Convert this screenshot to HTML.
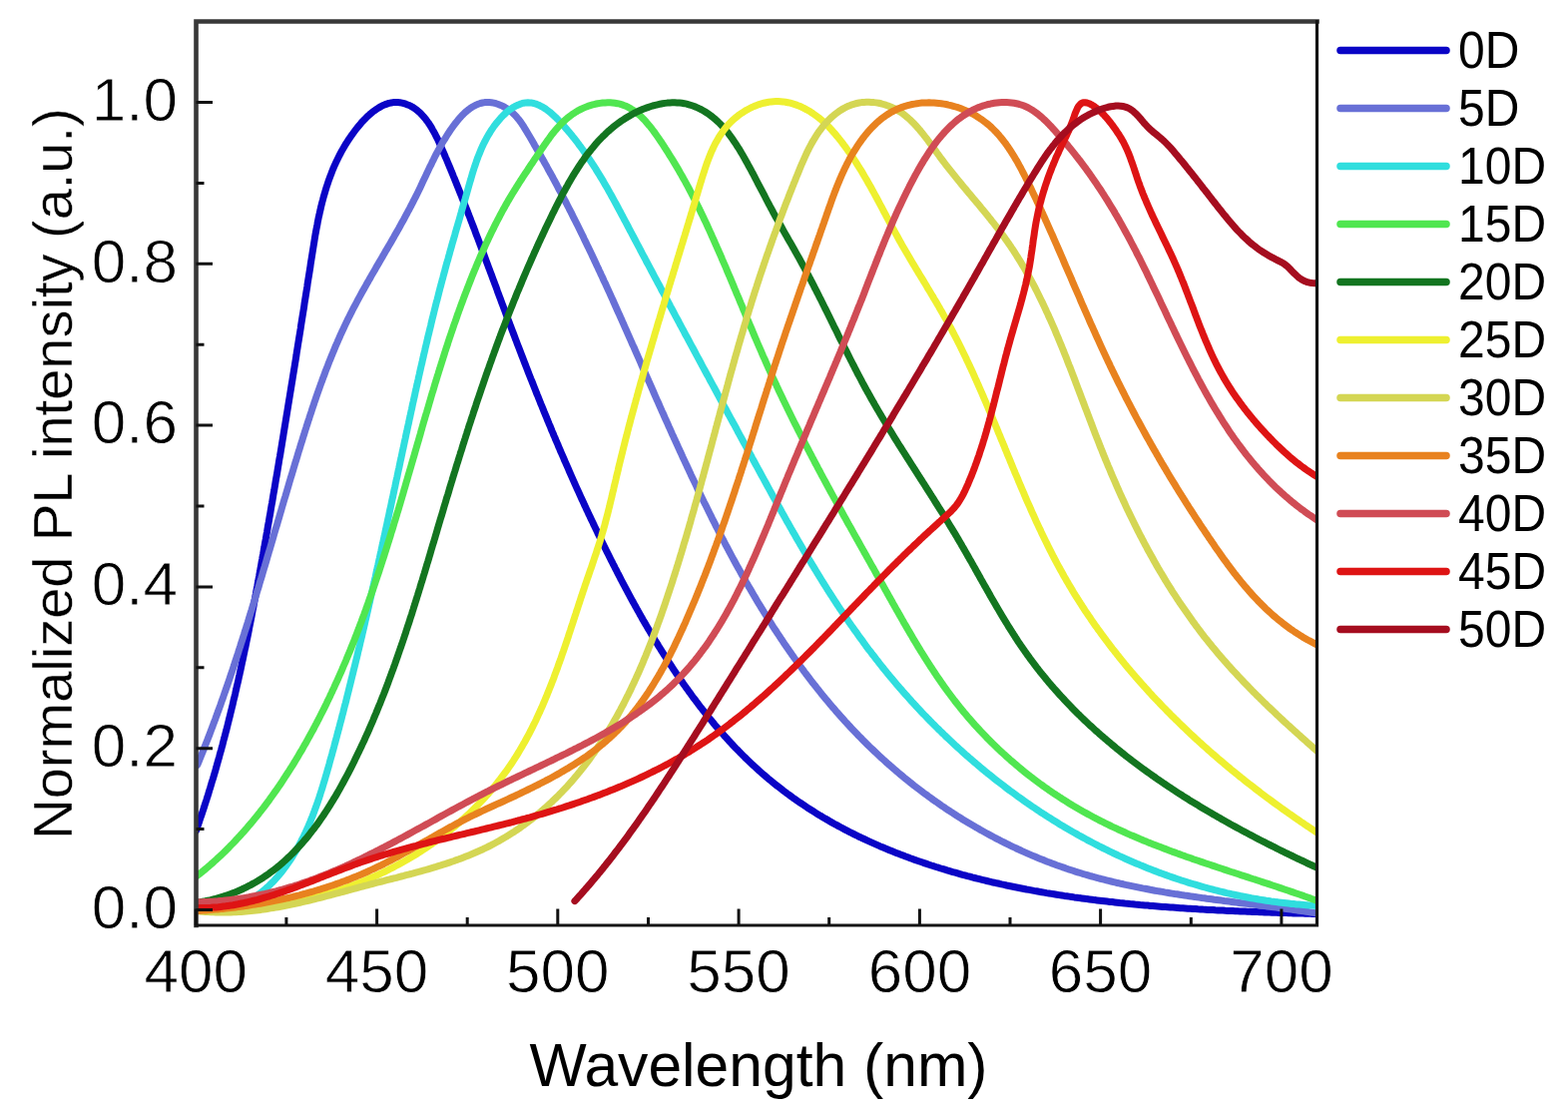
<!DOCTYPE html><html><head><meta charset="utf-8"><style>html,body{margin:0;padding:0;background:#fff;}svg{display:block}text{font-family:"Liberation Sans",Arial,sans-serif;fill:#000}.tk{stroke:#fff;stroke-width:0.8px;paint-order:fill stroke}.yt{stroke:#fff;stroke-width:0.4px;paint-order:fill stroke}</style></head><body>
<svg width="1571" height="1117" viewBox="0 0 1571 1117">
<g>
<rect width="1571" height="1117" fill="#fff"/>
<defs><clipPath id="cp"><rect x="196.5" y="21.5" width="1123.0" height="905.5"/></clipPath></defs>
<g clip-path="url(#cp)" fill="none" stroke-width="7.0" stroke-linejoin="round" stroke-linecap="round">
<path stroke="#0a04c6" d="M196.5,832.3 197.3,830.0 198.1,827.6 198.9,825.3 199.7,822.9 200.5,820.5 201.3,818.2 202.1,815.8 202.9,813.4 203.7,811.1 204.5,808.7 205.2,806.3 206.0,803.9 206.8,801.5 207.5,799.2 208.3,796.8 209.0,794.4 209.7,792.0 210.5,789.6 211.2,787.2 211.9,784.8 212.6,782.5 213.4,780.1 214.1,777.7 214.8,775.3 215.5,772.9 216.2,770.5 216.9,768.1 217.5,765.7 218.2,763.2 218.9,760.8 219.6,758.4 220.2,756.0 220.9,753.6 221.6,751.2 222.2,748.8 222.9,746.4 223.5,743.9 224.1,741.5 224.8,739.1 225.4,736.7 226.0,734.3 226.7,731.8 227.3,729.4 227.9,727.0 228.5,724.5 229.1,722.1 229.7,719.7 230.3,717.3 230.9,714.8 231.5,712.4 232.1,710.0 232.7,707.5 233.3,705.1 233.8,702.6 234.4,700.2 235.0,697.8 235.6,695.3 236.1,692.9 236.7,690.4 237.2,688.0 237.8,685.5 238.4,683.1 238.9,680.7 239.4,678.2 240.0,675.8 240.5,673.3 241.1,670.9 241.6,668.4 242.1,666.0 242.6,663.5 243.2,661.1 243.7,658.6 244.2,656.1 244.7,653.7 245.2,651.2 245.8,648.8 246.3,646.3 246.8,643.9 247.3,641.4 247.8,639.0 248.3,636.5 248.8,634.0 249.3,631.6 249.7,629.1 250.2,626.7 250.7,624.2 251.2,621.7 251.7,619.3 252.2,616.8 252.6,614.3 253.1,611.9 253.6,609.4 254.1,607.0 254.5,604.5 255.0,602.0 255.5,599.6 255.9,597.1 256.4,594.6 256.8,592.2 257.3,589.7 257.8,587.2 258.2,584.8 258.7,582.3 259.1,579.9 259.6,577.4 260.0,574.9 260.5,572.5 260.9,570.0 261.4,567.5 261.8,565.1 262.2,562.6 262.7,560.1 263.1,557.7 263.6,555.2 264.0,552.8 264.4,550.3 264.9,547.8 265.3,545.4 265.7,542.9 266.2,540.4 266.6,538.0 267.0,535.5 267.5,533.1 267.9,530.6 268.3,528.1 268.7,525.7 269.2,523.2 269.6,520.8 270.0,518.3 270.5,515.8 270.9,513.4 271.3,510.9 271.7,508.5 272.1,506.0 272.6,503.6 273.0,501.1 273.4,498.6 273.8,496.2 274.2,493.7 274.7,491.3 275.1,488.8 275.5,486.4 275.9,483.9 276.3,481.4 276.7,479.0 277.2,476.5 277.6,474.1 278.0,471.6 278.4,469.2 278.8,466.7 279.2,464.3 279.6,461.8 280.0,459.4 280.5,456.9 280.9,454.4 281.3,452.0 281.7,449.5 282.1,447.1 282.5,444.6 282.9,442.2 283.3,439.7 283.7,437.3 284.1,434.8 284.5,432.3 284.9,429.9 285.3,427.4 285.7,425.0 286.1,422.5 286.5,420.1 286.9,417.6 287.3,415.2 287.7,412.7 288.1,410.2 288.5,407.8 288.9,405.3 289.3,402.9 289.7,400.4 290.1,398.0 290.5,395.5 290.9,393.0 291.3,390.6 291.7,388.1 292.1,385.7 292.5,383.2 292.9,380.8 293.3,378.3 293.7,375.8 294.1,373.4 294.5,370.9 294.9,368.5 295.3,366.0 295.7,363.5 296.1,361.1 296.5,358.6 296.9,356.1 297.2,353.7 297.6,351.2 298.0,348.8 298.4,346.3 298.8,343.8 299.2,341.4 299.6,338.9 300.0,336.4 300.4,334.0 300.8,331.5 301.2,329.0 301.5,326.6 301.9,324.1 302.3,321.6 302.7,319.1 303.1,316.7 303.5,314.2 303.9,311.7 304.3,309.3 304.7,306.8 305.0,304.3 305.4,301.8 305.8,299.4 306.2,296.9 306.6,294.4 307.0,291.9 307.4,289.5 307.8,287.0 308.1,284.5 308.5,282.0 308.9,279.5 309.3,277.1 309.7,274.6 310.1,272.1 310.5,269.6 310.9,267.1 311.2,264.6 311.6,262.2 312.0,259.7 312.4,257.2 312.8,254.7 313.2,252.2 313.6,249.7 314.0,247.2 314.4,244.7 314.8,242.3 315.2,239.8 315.6,237.3 316.0,234.8 316.5,232.3 316.9,229.9 317.4,227.4 317.9,224.9 318.3,222.4 318.8,220.0 319.3,217.5 319.9,215.1 320.4,212.6 321.0,210.2 321.5,207.7 322.1,205.3 322.7,202.9 323.4,200.4 324.0,198.0 324.7,195.6 325.4,193.2 326.1,190.8 326.8,188.4 327.6,186.0 328.4,183.6 329.2,181.2 330.0,178.9 330.9,176.5 331.8,174.2 332.7,171.8 333.6,169.5 334.6,167.2 335.6,164.9 336.7,162.6 337.8,160.3 338.9,158.0 340.0,155.7 341.2,153.5 342.4,151.2 343.7,149.0 345.0,146.7 346.3,144.5 347.7,142.3 349.1,140.1 350.6,138.0 352.1,135.8 353.6,133.7 355.2,131.5 356.8,129.4 358.5,127.3 360.2,125.2 361.9,123.2 363.7,121.2 365.6,119.3 367.4,117.4 369.3,115.7 371.2,113.9 373.2,112.3 375.2,110.8 377.2,109.4 379.2,108.1 381.3,106.9 383.3,105.8 385.4,104.9 387.6,104.1 389.7,103.4 391.9,103.0 394.0,102.6 396.2,102.5 398.4,102.5 400.6,102.7 402.8,103.1 404.9,103.7 407.1,104.4 409.2,105.2 411.3,106.2 413.4,107.3 415.4,108.6 417.3,110.0 419.2,111.6 421.0,113.2 422.7,115.0 424.4,116.9 426.1,118.8 427.6,120.9 429.2,123.0 430.6,125.2 432.1,127.5 433.4,129.9 434.8,132.3 436.1,134.7 437.3,137.2 438.6,139.7 439.7,142.2 440.9,144.8 442.0,147.3 443.1,149.8 444.2,152.4 445.3,154.9 446.3,157.4 447.4,159.8 448.4,162.3 449.4,164.7 450.4,167.0 451.4,169.4 452.3,171.7 453.3,174.0 454.2,176.3 455.2,178.6 456.1,180.9 457.0,183.1 457.9,185.4 458.8,187.6 459.7,189.8 460.6,192.1 461.5,194.3 462.4,196.5 463.2,198.7 464.1,200.9 465.0,203.1 465.8,205.3 466.7,207.5 467.6,209.8 468.5,212.0 469.3,214.3 470.2,216.5 471.1,218.8 471.9,221.0 472.8,223.3 473.7,225.6 474.6,227.9 475.5,230.2 476.3,232.5 477.2,234.9 478.1,237.2 479.0,239.5 479.9,241.9 480.7,244.2 481.6,246.5 482.5,248.9 483.4,251.3 484.3,253.6 485.2,256.0 486.1,258.4 486.9,260.8 487.8,263.1 488.7,265.5 489.6,267.9 490.5,270.3 491.4,272.7 492.3,275.1 493.2,277.5 494.1,279.9 495.0,282.3 495.9,284.7 496.8,287.1 497.7,289.5 498.5,291.9 499.4,294.3 500.3,296.7 501.2,299.1 502.1,301.5 503.0,303.9 503.9,306.3 504.8,308.7 505.7,311.1 506.6,313.5 507.5,315.9 508.4,318.3 509.3,320.7 510.2,323.1 511.1,325.5 512.0,327.8 512.9,330.2 513.8,332.6 514.7,334.9 515.6,337.3 516.5,339.7 517.4,342.0 518.3,344.4 519.2,346.7 520.1,349.1 521.0,351.4 521.9,353.8 522.8,356.1 523.7,358.4 524.6,360.8 525.5,363.1 526.4,365.4 527.3,367.7 528.2,370.1 529.1,372.4 530.0,374.7 530.9,377.0 531.8,379.3 532.8,381.6 533.7,383.9 534.6,386.2 535.5,388.5 536.4,390.8 537.3,393.1 538.2,395.4 539.2,397.7 540.1,400.0 541.0,402.3 541.9,404.6 542.9,406.9 543.8,409.1 544.7,411.4 545.6,413.7 546.6,416.0 547.5,418.2 548.4,420.5 549.4,422.8 550.3,425.1 551.3,427.3 552.2,429.6 553.1,431.9 554.1,434.1 555.0,436.4 556.0,438.6 556.9,440.9 557.9,443.2 558.9,445.4 559.8,447.7 560.8,449.9 561.7,452.2 562.7,454.4 563.7,456.7 564.7,458.9 565.6,461.2 566.6,463.4 567.6,465.7 568.6,467.9 569.6,470.2 570.5,472.4 571.5,474.7 572.5,476.9 573.5,479.2 574.5,481.4 575.5,483.7 576.5,485.9 577.5,488.1 578.6,490.4 579.6,492.6 580.6,494.9 581.6,497.1 582.6,499.4 583.7,501.6 584.7,503.8 585.7,506.1 586.8,508.3 587.8,510.6 588.9,512.8 589.9,515.1 591.0,517.3 592.0,519.5 593.1,521.8 594.2,524.0 595.2,526.3 596.3,528.5 597.4,530.8 598.5,533.0 599.5,535.3 600.6,537.5 601.7,539.8 602.8,542.0 603.9,544.3 605.0,546.5 606.1,548.8 607.2,551.0 608.4,553.3 609.5,555.5 610.6,557.8 611.7,560.0 612.9,562.3 614.0,564.6 615.2,566.8 616.3,569.1 617.5,571.3 618.6,573.6 619.8,575.8 621.0,578.1 622.1,580.4 623.3,582.6 624.5,584.9 625.7,587.1 626.9,589.4 628.1,591.6 629.3,593.9 630.5,596.1 631.7,598.4 632.9,600.6 634.1,602.8 635.4,605.1 636.6,607.3 637.9,609.6 639.1,611.8 640.4,614.0 641.6,616.3 642.9,618.5 644.1,620.7 645.4,622.9 646.7,625.1 648.0,627.4 649.3,629.6 650.6,631.8 651.9,634.0 653.2,636.2 654.5,638.4 655.8,640.6 657.2,642.8 658.5,644.9 659.8,647.1 661.2,649.3 662.5,651.5 663.9,653.6 665.2,655.8 666.6,657.9 668.0,660.1 669.4,662.2 670.8,664.4 672.2,666.5 673.6,668.6 675.0,670.8 676.4,672.9 677.8,675.0 679.3,677.1 680.7,679.2 682.1,681.3 683.6,683.4 685.0,685.4 686.5,687.5 688.0,689.6 689.5,691.6 690.9,693.7 692.4,695.7 693.9,697.8 695.4,699.8 697.0,701.8 698.5,703.8 700.0,705.9 701.5,707.9 703.1,709.8 704.6,711.8 706.2,713.8 707.8,715.8 709.3,717.7 710.9,719.7 712.5,721.6 714.1,723.5 715.7,725.5 717.3,727.4 719.0,729.3 720.6,731.2 722.2,733.1 723.9,734.9 725.5,736.8 727.2,738.7 728.9,740.5 730.5,742.3 732.2,744.2 733.9,746.0 735.6,747.8 737.3,749.6 739.0,751.3 740.8,753.1 742.5,754.9 744.2,756.6 746.0,758.4 747.8,760.1 749.5,761.8 751.3,763.5 753.1,765.2 754.9,766.9 756.7,768.5 758.5,770.2 760.3,771.8 762.2,773.5 764.0,775.1 765.9,776.7 767.7,778.3 769.6,779.9 771.5,781.4 773.3,783.0 775.2,784.5 777.1,786.1 779.1,787.6 781.0,789.1 782.9,790.6 784.8,792.1 786.8,793.5 788.7,795.0 790.7,796.4 792.7,797.9 794.6,799.3 796.6,800.7 798.6,802.1 800.6,803.5 802.6,804.8 804.7,806.2 806.7,807.5 808.7,808.9 810.8,810.2 812.8,811.5 814.9,812.8 816.9,814.1 819.0,815.4 821.1,816.7 823.2,817.9 825.3,819.2 827.4,820.4 829.5,821.6 831.6,822.9 833.7,824.1 835.8,825.3 838.0,826.4 840.1,827.6 842.3,828.8 844.4,829.9 846.6,831.1 848.7,832.2 850.9,833.3 853.1,834.4 855.3,835.5 857.5,836.6 859.7,837.7 861.9,838.7 864.1,839.8 866.3,840.8 868.6,841.9 870.8,842.9 873.0,843.9 875.3,844.9 877.5,845.9 879.8,846.9 882.0,847.9 884.3,848.8 886.6,849.8 888.9,850.7 891.2,851.7 893.4,852.6 895.7,853.5 898.0,854.4 900.3,855.3 902.7,856.2 905.0,857.1 907.3,858.0 909.6,858.8 912.0,859.7 914.3,860.5 916.6,861.4 919.0,862.2 921.3,863.0 923.7,863.8 926.0,864.6 928.4,865.4 930.8,866.2 933.1,867.0 935.5,867.7 937.9,868.5 940.3,869.2 942.7,870.0 945.1,870.7 947.5,871.4 949.9,872.2 952.3,872.9 954.7,873.6 957.1,874.2 959.5,874.9 961.9,875.6 964.4,876.3 966.8,876.9 969.2,877.6 971.7,878.2 974.1,878.9 976.6,879.5 979.0,880.1 981.4,880.7 983.9,881.3 986.4,881.9 988.8,882.5 991.3,883.1 993.7,883.7 996.2,884.2 998.7,884.8 1001.2,885.3 1003.6,885.9 1006.1,886.4 1008.6,887.0 1011.1,887.5 1013.6,888.0 1016.0,888.5 1018.5,889.0 1021.0,889.5 1023.5,890.0 1026.0,890.5 1028.5,891.0 1031.0,891.4 1033.5,891.9 1036.0,892.4 1038.5,892.8 1041.1,893.3 1043.6,893.7 1046.1,894.1 1048.6,894.6 1051.1,895.0 1053.6,895.4 1056.1,895.8 1058.7,896.2 1061.2,896.6 1063.7,897.0 1066.2,897.4 1068.8,897.7 1071.3,898.1 1073.8,898.5 1076.3,898.9 1078.9,899.2 1081.4,899.6 1083.9,899.9 1086.5,900.2 1089.0,900.6 1091.5,900.9 1094.1,901.2 1096.6,901.6 1099.1,901.9 1101.7,902.2 1104.2,902.5 1106.8,902.8 1109.3,903.1 1111.8,903.4 1114.4,903.6 1116.9,903.9 1119.4,904.2 1122.0,904.5 1124.5,904.7 1127.0,905.0 1129.6,905.2 1132.1,905.5 1134.7,905.7 1137.2,906.0 1139.7,906.2 1142.3,906.5 1144.8,906.7 1147.3,906.9 1149.9,907.1 1152.4,907.4 1154.9,907.6 1157.5,907.8 1160.0,908.0 1162.5,908.2 1165.0,908.4 1167.6,908.6 1170.1,908.8 1172.6,909.0 1175.1,909.1 1177.7,909.3 1180.2,909.5 1182.7,909.7 1185.2,909.8 1187.7,910.0 1190.2,910.2 1192.7,910.3 1195.3,910.5 1197.8,910.6 1200.3,910.8 1202.8,910.9 1205.3,911.1 1207.8,911.2 1210.3,911.4 1212.8,911.5 1215.3,911.6 1217.7,911.8 1220.2,911.9 1222.7,912.0 1225.2,912.1 1227.7,912.3 1230.2,912.4 1232.6,912.5 1235.1,912.6 1237.6,912.7 1240.0,912.8 1242.5,912.9 1245.0,913.0 1247.4,913.1 1249.9,913.2 1252.3,913.3 1254.8,913.4 1257.2,913.5 1259.7,913.6 1262.1,913.7 1264.5,913.8 1267.0,913.9 1269.4,914.0 1271.8,914.1 1274.3,914.2 1276.7,914.2 1279.1,914.3 1281.5,914.4 1283.9,914.5 1286.3,914.6 1288.7,914.6 1291.1,914.7 1293.5,914.8 1295.9,914.9 1298.2,914.9 1300.6,915.0 1303.0,915.1 1305.4,915.1 1307.7,915.2 1310.1,915.3 1312.4,915.3 1314.8,915.4 1317.1,915.5 1319.5,915.5 1321.8,915.6 1324.1,915.7"/>
<path stroke="#6870d6" d="M197.7,766.3 198.7,764.0 199.6,761.8 200.5,759.5 201.5,757.2 202.4,755.0 203.3,752.7 204.2,750.4 205.1,748.1 206.0,745.8 206.9,743.5 207.8,741.2 208.7,738.9 209.6,736.6 210.5,734.3 211.3,732.0 212.2,729.7 213.1,727.4 213.9,725.1 214.8,722.8 215.7,720.4 216.5,718.1 217.4,715.8 218.2,713.4 219.1,711.1 219.9,708.8 220.8,706.4 221.6,704.1 222.4,701.7 223.3,699.4 224.1,697.0 224.9,694.7 225.7,692.3 226.5,690.0 227.4,687.6 228.2,685.2 229.0,682.9 229.8,680.5 230.6,678.1 231.4,675.7 232.2,673.4 233.0,671.0 233.8,668.6 234.6,666.2 235.3,663.8 236.1,661.5 236.9,659.1 237.7,656.7 238.5,654.3 239.2,651.9 240.0,649.5 240.8,647.1 241.5,644.7 242.3,642.3 243.1,639.9 243.8,637.5 244.6,635.1 245.3,632.7 246.1,630.3 246.9,627.9 247.6,625.5 248.4,623.1 249.1,620.7 249.8,618.3 250.6,615.9 251.3,613.4 252.1,611.0 252.8,608.6 253.5,606.2 254.3,603.8 255.0,601.4 255.7,599.0 256.5,596.5 257.2,594.1 257.9,591.7 258.7,589.3 259.4,586.9 260.1,584.4 260.8,582.0 261.6,579.6 262.3,577.2 263.0,574.8 263.7,572.3 264.4,569.9 265.2,567.5 265.9,565.1 266.6,562.7 267.3,560.2 268.0,557.8 268.7,555.4 269.4,553.0 270.2,550.6 270.9,548.1 271.6,545.7 272.3,543.3 273.0,540.9 273.7,538.5 274.4,536.1 275.1,533.6 275.8,531.2 276.5,528.8 277.3,526.4 278.0,524.0 278.7,521.6 279.4,519.2 280.1,516.7 280.8,514.3 281.5,511.9 282.2,509.5 282.9,507.1 283.6,504.7 284.3,502.3 285.0,499.9 285.8,497.5 286.5,495.1 287.2,492.7 287.9,490.3 288.6,487.9 289.3,485.5 290.0,483.1 290.7,480.7 291.4,478.3 292.2,475.9 292.9,473.6 293.6,471.2 294.3,468.8 295.0,466.4 295.7,464.0 296.5,461.7 297.2,459.3 297.9,456.9 298.6,454.5 299.3,452.2 300.1,449.8 300.8,447.4 301.5,445.1 302.3,442.7 303.0,440.4 303.7,438.0 304.5,435.7 305.2,433.3 305.9,431.0 306.7,428.6 307.4,426.3 308.2,423.9 308.9,421.6 309.7,419.3 310.4,417.0 311.2,414.6 312.0,412.3 312.7,410.0 313.5,407.7 314.3,405.4 315.0,403.1 315.8,400.8 316.6,398.5 317.4,396.2 318.2,393.9 319.0,391.6 319.8,389.3 320.6,387.1 321.4,384.8 322.3,382.5 323.1,380.3 323.9,378.0 324.8,375.8 325.6,373.5 326.4,371.3 327.3,369.0 328.2,366.8 329.0,364.6 329.9,362.3 330.8,360.1 331.7,357.9 332.6,355.7 333.5,353.5 334.4,351.3 335.3,349.1 336.2,346.9 337.1,344.8 338.1,342.6 339.0,340.4 340.0,338.3 340.9,336.1 341.9,334.0 342.9,331.8 343.9,329.7 344.9,327.6 345.9,325.4 346.9,323.3 347.9,321.2 348.9,319.1 350.0,317.0 351.0,314.9 352.1,312.8 353.1,310.8 354.2,308.7 355.3,306.6 356.4,304.6 357.5,302.5 358.6,300.4 359.7,298.4 360.8,296.4 361.9,294.3 363.0,292.3 364.2,290.2 365.3,288.2 366.5,286.2 367.6,284.1 368.8,282.1 369.9,280.1 371.1,278.1 372.2,276.0 373.4,274.0 374.6,272.0 375.8,269.9 376.9,267.9 378.1,265.9 379.3,263.9 380.5,261.8 381.7,259.8 382.9,257.8 384.0,255.7 385.2,253.7 386.4,251.6 387.6,249.6 388.8,247.5 390.0,245.5 391.2,243.4 392.4,241.4 393.6,239.3 394.8,237.2 395.9,235.1 397.1,233.1 398.3,231.0 399.5,228.9 400.7,226.8 401.8,224.7 403.0,222.5 404.2,220.4 405.4,218.3 406.5,216.1 407.7,214.0 408.8,211.8 410.0,209.7 411.1,207.5 412.3,205.3 413.4,203.1 414.5,200.9 415.6,198.7 416.8,196.5 417.9,194.2 419.0,192.0 420.1,189.7 421.2,187.4 422.3,185.1 423.3,182.8 424.4,180.5 425.5,178.2 426.6,175.9 427.7,173.6 428.8,171.3 429.9,168.9 431.0,166.6 432.2,164.3 433.3,161.9 434.5,159.6 435.6,157.3 436.8,154.9 438.0,152.6 439.3,150.3 440.5,148.0 441.8,145.7 443.1,143.3 444.5,141.0 445.9,138.8 447.3,136.5 448.7,134.2 450.2,132.0 451.7,129.7 453.3,127.5 454.9,125.3 456.5,123.2 458.2,121.1 459.9,119.0 461.6,117.1 463.4,115.2 465.2,113.4 467.1,111.7 469.0,110.1 470.9,108.7 472.9,107.3 474.9,106.2 477.0,105.1 479.1,104.2 481.2,103.5 483.4,103.0 485.6,102.6 487.8,102.5 490.1,102.5 492.4,102.7 494.7,103.1 497.0,103.7 499.3,104.5 501.6,105.4 503.8,106.4 506.0,107.6 508.2,109.0 510.3,110.4 512.3,112.0 514.2,113.7 516.1,115.5 517.8,117.4 519.5,119.4 521.0,121.4 522.5,123.5 524.0,125.7 525.3,127.8 526.7,130.1 528.0,132.3 529.3,134.5 530.7,136.8 532.0,139.0 533.3,141.3 534.6,143.5 535.8,145.7 537.1,147.9 538.4,150.2 539.7,152.4 540.9,154.6 542.2,156.8 543.4,159.1 544.7,161.3 545.9,163.5 547.2,165.7 548.4,168.0 549.6,170.2 550.8,172.4 552.1,174.6 553.3,176.8 554.5,179.1 555.7,181.3 556.9,183.5 558.1,185.7 559.2,188.0 560.4,190.2 561.6,192.4 562.8,194.6 563.9,196.8 565.1,199.1 566.2,201.3 567.4,203.5 568.5,205.7 569.7,208.0 570.8,210.2 572.0,212.4 573.1,214.6 574.2,216.9 575.3,219.1 576.4,221.3 577.6,223.6 578.7,225.8 579.8,228.0 580.9,230.2 582.0,232.5 583.1,234.7 584.2,236.9 585.2,239.2 586.3,241.4 587.4,243.6 588.5,245.9 589.6,248.1 590.6,250.3 591.7,252.6 592.8,254.8 593.8,257.0 594.9,259.3 595.9,261.5 597.0,263.8 598.0,266.0 599.1,268.2 600.1,270.5 601.2,272.7 602.2,275.0 603.3,277.2 604.3,279.5 605.3,281.7 606.4,283.9 607.4,286.2 608.4,288.4 609.5,290.7 610.5,292.9 611.5,295.2 612.5,297.4 613.6,299.7 614.6,302.0 615.6,304.2 616.6,306.5 617.6,308.7 618.6,311.0 619.6,313.2 620.7,315.5 621.7,317.8 622.7,320.0 623.7,322.3 624.7,324.5 625.7,326.8 626.7,329.1 627.7,331.3 628.7,333.6 629.7,335.9 630.7,338.2 631.7,340.4 632.7,342.7 633.7,345.0 634.8,347.2 635.8,349.5 636.8,351.8 637.8,354.1 638.8,356.4 639.8,358.6 640.8,360.9 641.8,363.2 642.8,365.5 643.8,367.8 644.8,370.1 645.8,372.4 646.8,374.7 647.8,376.9 648.8,379.2 649.8,381.5 650.9,383.8 651.9,386.1 652.9,388.4 653.9,390.7 654.9,393.0 655.9,395.3 656.9,397.6 657.9,399.9 659.0,402.2 660.0,404.5 661.0,406.8 662.0,409.1 663.0,411.4 664.1,413.7 665.1,416.0 666.1,418.3 667.1,420.6 668.2,422.9 669.2,425.2 670.2,427.5 671.3,429.8 672.3,432.1 673.3,434.4 674.4,436.7 675.4,439.0 676.5,441.3 677.5,443.6 678.6,445.9 679.6,448.2 680.7,450.5 681.7,452.8 682.8,455.1 683.8,457.4 684.9,459.7 685.9,461.9 687.0,464.2 688.1,466.5 689.1,468.8 690.2,471.1 691.3,473.4 692.3,475.7 693.4,478.0 694.5,480.3 695.6,482.5 696.7,484.8 697.8,487.1 698.8,489.4 699.9,491.7 701.0,493.9 702.1,496.2 703.2,498.5 704.3,500.7 705.4,503.0 706.6,505.3 707.7,507.6 708.8,509.8 709.9,512.1 711.0,514.3 712.2,516.6 713.3,518.9 714.4,521.1 715.6,523.4 716.7,525.6 717.8,527.9 719.0,530.1 720.1,532.4 721.3,534.6 722.4,536.8 723.6,539.1 724.8,541.3 725.9,543.5 727.1,545.8 728.3,548.0 729.5,550.2 730.6,552.4 731.8,554.7 733.0,556.9 734.2,559.1 735.4,561.3 736.6,563.5 737.8,565.7 739.0,567.9 740.3,570.1 741.5,572.3 742.7,574.5 743.9,576.7 745.2,578.9 746.4,581.0 747.6,583.2 748.9,585.4 750.1,587.6 751.4,589.7 752.7,591.9 753.9,594.0 755.2,596.2 756.5,598.4 757.7,600.5 759.0,602.7 760.3,604.8 761.6,606.9 762.9,609.1 764.2,611.2 765.5,613.3 766.8,615.4 768.2,617.6 769.5,619.7 770.8,621.8 772.2,623.9 773.5,626.0 774.8,628.1 776.2,630.2 777.6,632.3 778.9,634.3 780.3,636.4 781.7,638.5 783.0,640.6 784.4,642.6 785.8,644.7 787.2,646.7 788.6,648.8 790.0,650.8 791.4,652.9 792.9,654.9 794.3,656.9 795.7,659.0 797.2,661.0 798.6,663.0 800.1,665.0 801.5,667.0 803.0,669.0 804.5,671.0 805.9,673.0 807.4,675.0 808.9,676.9 810.4,678.9 811.9,680.9 813.4,682.8 814.9,684.8 816.5,686.7 818.0,688.7 819.5,690.6 821.1,692.5 822.6,694.5 824.2,696.4 825.7,698.3 827.3,700.2 828.9,702.1 830.5,704.0 832.1,705.9 833.7,707.8 835.3,709.6 836.9,711.5 838.5,713.4 840.1,715.2 841.8,717.1 843.4,718.9 845.0,720.7 846.7,722.6 848.4,724.4 850.0,726.2 851.7,728.0 853.4,729.8 855.1,731.6 856.8,733.4 858.5,735.2 860.2,737.0 862.0,738.7 863.7,740.5 865.4,742.2 867.2,744.0 868.9,745.7 870.7,747.5 872.5,749.2 874.3,750.9 876.1,752.6 877.9,754.3 879.7,756.0 881.5,757.7 883.3,759.4 885.1,761.0 887.0,762.7 888.8,764.4 890.7,766.0 892.6,767.6 894.4,769.3 896.3,770.9 898.2,772.5 900.1,774.1 902.0,775.7 903.9,777.3 905.8,778.9 907.8,780.5 909.7,782.0 911.6,783.6 913.6,785.1 915.5,786.7 917.5,788.2 919.5,789.7 921.5,791.2 923.5,792.7 925.4,794.2 927.4,795.7 929.5,797.2 931.5,798.7 933.5,800.1 935.5,801.6 937.6,803.0 939.6,804.4 941.7,805.9 943.7,807.3 945.8,808.7 947.8,810.1 949.9,811.5 952.0,812.8 954.1,814.2 956.2,815.6 958.3,816.9 960.4,818.3 962.5,819.6 964.6,820.9 966.8,822.2 968.9,823.5 971.0,824.8 973.2,826.1 975.3,827.3 977.5,828.6 979.7,829.8 981.8,831.1 984.0,832.3 986.2,833.5 988.4,834.7 990.6,835.9 992.8,837.1 995.0,838.3 997.2,839.5 999.4,840.6 1001.6,841.7 1003.8,842.9 1006.1,844.0 1008.3,845.1 1010.5,846.2 1012.8,847.3 1015.0,848.4 1017.3,849.4 1019.5,850.5 1021.8,851.5 1024.1,852.6 1026.4,853.6 1028.6,854.6 1030.9,855.6 1033.2,856.6 1035.5,857.6 1037.8,858.5 1040.1,859.5 1042.4,860.4 1044.7,861.3 1047.0,862.3 1049.3,863.2 1051.7,864.0 1054.0,864.9 1056.3,865.8 1058.7,866.7 1061.0,867.5 1063.3,868.3 1065.7,869.1 1068.0,870.0 1070.4,870.8 1072.7,871.5 1075.1,872.3 1077.5,873.1 1079.8,873.8 1082.2,874.5 1084.6,875.3 1087.0,876.0 1089.3,876.7 1091.7,877.4 1094.1,878.0 1096.5,878.7 1098.9,879.3 1101.3,880.0 1103.7,880.6 1106.1,881.2 1108.5,881.8 1110.9,882.4 1113.3,883.0 1115.7,883.6 1118.2,884.2 1120.6,884.7 1123.0,885.3 1125.4,885.8 1127.9,886.4 1130.3,886.9 1132.7,887.4 1135.2,887.9 1137.6,888.4 1140.0,888.9 1142.5,889.4 1144.9,889.9 1147.4,890.3 1149.8,890.8 1152.3,891.3 1154.7,891.7 1157.2,892.2 1159.6,892.6 1162.1,893.0 1164.6,893.4 1167.0,893.9 1169.5,894.3 1171.9,894.7 1174.4,895.1 1176.9,895.5 1179.4,895.8 1181.8,896.2 1184.3,896.6 1186.8,897.0 1189.2,897.3 1191.7,897.7 1194.2,898.1 1196.7,898.4 1199.2,898.8 1201.6,899.1 1204.1,899.5 1206.6,899.8 1209.1,900.2 1211.6,900.5 1214.1,900.8 1216.5,901.2 1219.0,901.5 1221.5,901.8 1224.0,902.1 1226.5,902.5 1229.0,902.8 1231.5,903.1 1234.0,903.4 1236.5,903.7 1238.9,904.1 1241.4,904.4 1243.9,904.7 1246.4,905.0 1248.9,905.3 1251.4,905.6 1253.9,906.0 1256.4,906.3 1258.9,906.6 1261.4,906.9 1263.9,907.2 1266.3,907.5 1268.8,907.9 1271.3,908.2 1273.8,908.5 1276.3,908.8 1278.8,909.1 1281.3,909.5 1283.8,909.8 1286.3,910.1 1288.7,910.5 1291.2,910.8 1293.7,911.1 1296.2,911.5 1298.7,911.8 1301.2,912.2 1303.6,912.5 1306.1,912.9 1308.6,913.3 1311.1,913.6 1313.5,914.0 1316.0,914.4 1318.5,914.8 1321.0,915.1 1323.4,915.5 1325.9,915.9"/>
<path stroke="#30dede" d="M195.1,910.1 198.0,910.7 200.8,911.1 203.6,911.4 206.4,911.7 209.2,911.8 211.9,911.9 214.5,911.8 217.2,911.7 219.8,911.5 222.3,911.2 224.8,910.8 227.3,910.4 229.8,909.8 232.2,909.2 234.6,908.5 236.9,907.7 239.2,906.9 241.5,906.0 243.7,905.0 246.0,904.0 248.1,902.9 250.3,901.7 252.4,900.5 254.4,899.2 256.5,897.8 258.5,896.4 260.4,895.0 262.4,893.5 264.3,891.9 266.1,890.4 268.0,888.7 269.8,887.0 271.5,885.3 273.3,883.6 275.0,881.8 276.6,879.9 278.3,878.1 279.9,876.2 281.5,874.3 283.0,872.3 284.5,870.3 286.0,868.4 287.5,866.3 288.9,864.3 290.3,862.2 291.7,860.2 293.0,858.1 294.3,856.0 295.6,853.9 296.9,851.7 298.1,849.6 299.3,847.4 300.5,845.2 301.6,843.1 302.7,840.8 303.9,838.6 304.9,836.4 306.0,834.2 307.0,831.9 308.1,829.6 309.1,827.3 310.0,825.1 311.0,822.8 311.9,820.4 312.9,818.1 313.8,815.8 314.7,813.5 315.5,811.1 316.4,808.8 317.2,806.4 318.1,804.0 318.9,801.7 319.7,799.3 320.5,796.9 321.2,794.5 322.0,792.1 322.8,789.7 323.5,787.3 324.2,784.9 325.0,782.4 325.7,780.0 326.4,777.6 327.1,775.2 327.8,772.7 328.5,770.3 329.2,767.9 329.9,765.4 330.5,763.0 331.2,760.6 331.9,758.1 332.6,755.7 333.2,753.3 333.9,750.9 334.6,748.4 335.2,746.0 335.9,743.6 336.5,741.1 337.2,738.7 337.8,736.3 338.5,733.8 339.1,731.4 339.8,729.0 340.4,726.5 341.0,724.1 341.7,721.7 342.3,719.3 342.9,716.8 343.6,714.4 344.2,712.0 344.8,709.5 345.4,707.1 346.1,704.7 346.7,702.3 347.3,699.8 347.9,697.4 348.5,695.0 349.1,692.6 349.7,690.1 350.3,687.7 350.9,685.3 351.5,682.9 352.1,680.4 352.7,678.0 353.3,675.6 353.9,673.1 354.5,670.7 355.1,668.3 355.7,665.9 356.3,663.4 356.9,661.0 357.5,658.6 358.1,656.2 358.6,653.7 359.2,651.3 359.8,648.9 360.4,646.5 360.9,644.0 361.5,641.6 362.1,639.2 362.7,636.8 363.2,634.3 363.8,631.9 364.4,629.5 364.9,627.1 365.5,624.6 366.0,622.2 366.6,619.8 367.2,617.3 367.7,614.9 368.3,612.5 368.8,610.1 369.4,607.6 369.9,605.2 370.5,602.8 371.0,600.4 371.6,597.9 372.1,595.5 372.7,593.1 373.2,590.6 373.8,588.2 374.3,585.8 374.9,583.4 375.4,580.9 376.0,578.5 376.5,576.1 377.0,573.6 377.6,571.2 378.1,568.8 378.7,566.3 379.2,563.9 379.7,561.5 380.3,559.0 380.8,556.6 381.3,554.2 381.9,551.7 382.4,549.3 382.9,546.9 383.5,544.4 384.0,542.0 384.5,539.6 385.1,537.1 385.6,534.7 386.1,532.3 386.6,529.8 387.2,527.4 387.7,524.9 388.2,522.5 388.7,520.1 389.3,517.6 389.8,515.2 390.3,512.7 390.8,510.3 391.4,507.9 391.9,505.4 392.4,503.0 392.9,500.5 393.5,498.1 394.0,495.6 394.5,493.2 395.0,490.8 395.6,488.3 396.1,485.9 396.6,483.4 397.1,481.0 397.7,478.5 398.2,476.1 398.7,473.6 399.2,471.2 399.8,468.7 400.3,466.3 400.8,463.8 401.3,461.4 401.9,458.9 402.4,456.4 402.9,454.0 403.4,451.5 404.0,449.1 404.5,446.6 405.0,444.2 405.5,441.7 406.1,439.2 406.6,436.8 407.1,434.3 407.7,431.9 408.2,429.4 408.7,427.0 409.3,424.5 409.8,422.0 410.3,419.6 410.9,417.1 411.4,414.6 411.9,412.2 412.5,409.7 413.0,407.3 413.5,404.8 414.1,402.3 414.6,399.9 415.2,397.4 415.7,395.0 416.2,392.5 416.8,390.1 417.3,387.6 417.9,385.1 418.4,382.7 419.0,380.2 419.5,377.8 420.1,375.3 420.6,372.9 421.2,370.4 421.7,368.0 422.3,365.5 422.9,363.1 423.4,360.6 424.0,358.2 424.5,355.7 425.1,353.3 425.7,350.8 426.2,348.4 426.8,346.0 427.4,343.5 428.0,341.1 428.5,338.6 429.1,336.2 429.7,333.8 430.3,331.3 430.9,328.9 431.5,326.5 432.0,324.1 432.6,321.6 433.2,319.2 433.8,316.8 434.4,314.4 435.0,312.0 435.6,309.5 436.2,307.1 436.8,304.7 437.4,302.3 438.1,299.9 438.7,297.5 439.3,295.1 439.9,292.7 440.5,290.3 441.1,287.9 441.8,285.5 442.4,283.1 443.0,280.8 443.7,278.4 444.3,276.0 445.0,273.6 445.6,271.3 446.2,268.9 446.9,266.5 447.5,264.1 448.2,261.8 448.9,259.4 449.5,257.0 450.2,254.7 450.8,252.3 451.5,250.0 452.2,247.6 452.8,245.2 453.5,242.8 454.2,240.5 454.9,238.1 455.6,235.7 456.2,233.3 456.9,231.0 457.6,228.6 458.3,226.2 459.0,223.8 459.7,221.4 460.4,219.0 461.1,216.6 461.8,214.2 462.4,211.7 463.1,209.3 463.8,206.9 464.5,204.4 465.2,202.0 466.0,199.5 466.7,197.1 467.4,194.6 468.1,192.1 468.8,189.6 469.5,187.1 470.2,184.6 470.9,182.1 471.7,179.6 472.4,177.1 473.1,174.6 473.9,172.0 474.7,169.5 475.5,167.0 476.4,164.5 477.2,162.0 478.1,159.5 479.0,157.0 480.0,154.6 481.0,152.1 482.0,149.7 483.1,147.2 484.2,144.8 485.4,142.4 486.6,140.1 487.9,137.7 489.2,135.4 490.6,133.1 492.0,130.8 493.5,128.6 495.0,126.4 496.6,124.3 498.3,122.2 500.0,120.2 501.7,118.2 503.5,116.3 505.3,114.6 507.1,112.9 509.0,111.3 510.9,109.8 512.9,108.5 514.8,107.2 516.8,106.1 518.8,105.2 520.8,104.4 522.8,103.7 524.8,103.2 526.8,102.9 528.9,102.8 530.9,102.9 532.9,103.1 534.9,103.5 536.9,104.1 538.9,104.9 540.9,105.8 542.9,106.8 544.9,108.0 546.9,109.3 548.8,110.7 550.8,112.2 552.7,113.9 554.6,115.6 556.5,117.3 558.4,119.2 560.2,121.1 562.1,123.0 563.9,125.0 565.6,127.0 567.4,129.1 569.1,131.1 570.9,133.1 572.6,135.2 574.2,137.3 575.9,139.3 577.5,141.4 579.1,143.5 580.6,145.6 582.2,147.7 583.7,149.8 585.2,151.9 586.7,154.0 588.2,156.1 589.6,158.3 591.1,160.4 592.5,162.5 593.9,164.7 595.3,166.8 596.7,168.9 598.0,171.1 599.3,173.3 600.7,175.4 602.0,177.6 603.3,179.7 604.6,181.9 605.8,184.1 607.1,186.3 608.4,188.4 609.6,190.6 610.8,192.8 612.1,195.0 613.3,197.2 614.5,199.4 615.7,201.6 616.9,203.8 618.1,206.0 619.3,208.2 620.4,210.3 621.6,212.5 622.8,214.8 624.0,217.0 625.1,219.2 626.3,221.4 627.5,223.6 628.6,225.8 629.8,228.0 630.9,230.2 632.1,232.4 633.3,234.6 634.4,236.8 635.6,239.0 636.8,241.2 637.9,243.4 639.1,245.6 640.3,247.8 641.4,250.0 642.6,252.2 643.7,254.4 644.9,256.6 646.1,258.8 647.2,261.0 648.4,263.2 649.6,265.4 650.8,267.6 651.9,269.8 653.1,272.0 654.3,274.2 655.4,276.4 656.6,278.6 657.8,280.8 658.9,283.0 660.1,285.1 661.3,287.3 662.4,289.5 663.6,291.7 664.8,293.9 666.0,296.1 667.1,298.3 668.3,300.5 669.5,302.7 670.7,304.9 671.8,307.1 673.0,309.3 674.2,311.5 675.4,313.7 676.5,315.9 677.7,318.1 678.9,320.3 680.1,322.5 681.2,324.7 682.4,326.9 683.6,329.1 684.8,331.3 685.9,333.5 687.1,335.7 688.3,337.8 689.5,340.0 690.7,342.2 691.8,344.4 693.0,346.6 694.2,348.8 695.4,351.0 696.6,353.2 697.7,355.4 698.9,357.6 700.1,359.8 701.3,362.0 702.5,364.2 703.6,366.4 704.8,368.6 706.0,370.8 707.2,373.0 708.4,375.2 709.6,377.3 710.7,379.5 711.9,381.7 713.1,383.9 714.3,386.1 715.5,388.3 716.7,390.5 717.9,392.7 719.0,394.9 720.2,397.1 721.4,399.3 722.6,401.5 723.8,403.7 725.0,405.9 726.2,408.1 727.4,410.3 728.5,412.5 729.7,414.7 730.9,416.9 732.1,419.1 733.3,421.3 734.5,423.5 735.7,425.6 736.9,427.8 738.1,430.0 739.2,432.2 740.4,434.4 741.6,436.6 742.8,438.8 744.0,441.0 745.2,443.2 746.4,445.4 747.6,447.6 748.8,449.8 750.0,452.0 751.2,454.2 752.4,456.4 753.5,458.6 754.7,460.8 755.9,463.0 757.1,465.2 758.3,467.4 759.5,469.6 760.7,471.8 761.9,474.0 763.1,476.2 764.3,478.4 765.5,480.6 766.7,482.8 767.9,485.0 769.1,487.2 770.3,489.4 771.5,491.6 772.7,493.8 773.9,496.0 775.1,498.2 776.3,500.4 777.5,502.6 778.8,504.8 780.0,507.0 781.2,509.1 782.4,511.3 783.6,513.5 784.9,515.7 786.1,517.9 787.3,520.1 788.5,522.3 789.8,524.4 791.0,526.6 792.2,528.8 793.5,531.0 794.7,533.2 796.0,535.3 797.2,537.5 798.4,539.7 799.7,541.8 801.0,544.0 802.2,546.2 803.5,548.3 804.7,550.5 806.0,552.7 807.3,554.8 808.5,557.0 809.8,559.1 811.1,561.3 812.4,563.4 813.7,565.6 815.0,567.7 816.3,569.9 817.6,572.0 818.9,574.1 820.2,576.3 821.5,578.4 822.8,580.5 824.1,582.6 825.4,584.8 826.8,586.9 828.1,589.0 829.4,591.1 830.8,593.2 832.1,595.3 833.5,597.4 834.8,599.5 836.2,601.6 837.6,603.7 838.9,605.8 840.3,607.9 841.7,610.0 843.1,612.0 844.5,614.1 845.9,616.2 847.3,618.2 848.7,620.3 850.1,622.4 851.5,624.4 852.9,626.5 854.4,628.5 855.8,630.6 857.3,632.6 858.7,634.6 860.2,636.7 861.6,638.7 863.1,640.7 864.6,642.7 866.0,644.7 867.5,646.8 869.0,648.8 870.5,650.8 872.0,652.7 873.5,654.7 875.1,656.7 876.6,658.7 878.1,660.7 879.7,662.6 881.2,664.6 882.8,666.6 884.3,668.5 885.9,670.5 887.5,672.4 889.0,674.3 890.6,676.3 892.2,678.2 893.8,680.1 895.4,682.0 897.1,684.0 898.7,685.9 900.3,687.8 901.9,689.7 903.6,691.5 905.2,693.4 906.9,695.3 908.6,697.2 910.2,699.0 911.9,700.9 913.6,702.8 915.3,704.6 917.0,706.5 918.7,708.3 920.4,710.1 922.1,712.0 923.8,713.8 925.5,715.6 927.3,717.4 929.0,719.2 930.8,721.0 932.5,722.8 934.3,724.6 936.0,726.3 937.8,728.1 939.6,729.9 941.4,731.6 943.2,733.4 945.0,735.1 946.8,736.9 948.6,738.6 950.4,740.3 952.2,742.0 954.1,743.8 955.9,745.5 957.7,747.2 959.6,748.9 961.4,750.5 963.3,752.2 965.1,753.9 967.0,755.6 968.9,757.2 970.8,758.9 972.7,760.5 974.6,762.1 976.5,763.8 978.4,765.4 980.3,767.0 982.2,768.6 984.1,770.2 986.0,771.8 988.0,773.4 989.9,775.0 991.9,776.6 993.8,778.1 995.8,779.7 997.7,781.2 999.7,782.8 1001.7,784.3 1003.7,785.8 1005.7,787.3 1007.6,788.9 1009.6,790.4 1011.6,791.9 1013.7,793.3 1015.7,794.8 1017.7,796.3 1019.7,797.8 1021.7,799.2 1023.8,800.7 1025.8,802.1 1027.9,803.6 1029.9,805.0 1032.0,806.4 1034.0,807.8 1036.1,809.2 1038.2,810.6 1040.3,812.0 1042.3,813.4 1044.4,814.7 1046.5,816.1 1048.6,817.4 1050.7,818.8 1052.8,820.1 1054.9,821.4 1057.1,822.8 1059.2,824.1 1061.3,825.4 1063.4,826.7 1065.6,827.9 1067.7,829.2 1069.9,830.5 1072.0,831.7 1074.2,833.0 1076.4,834.2 1078.5,835.4 1080.7,836.7 1082.9,837.9 1085.1,839.1 1087.3,840.3 1089.4,841.5 1091.6,842.6 1093.8,843.8 1096.1,845.0 1098.3,846.1 1100.5,847.3 1102.7,848.4 1104.9,849.5 1107.2,850.6 1109.4,851.7 1111.6,852.8 1113.9,853.9 1116.1,855.0 1118.4,856.0 1120.6,857.1 1122.9,858.1 1125.2,859.2 1127.4,860.2 1129.7,861.2 1132.0,862.2 1134.3,863.2 1136.6,864.2 1138.9,865.2 1141.2,866.1 1143.5,867.1 1145.8,868.0 1148.1,869.0 1150.4,869.9 1152.7,870.8 1155.0,871.7 1157.4,872.6 1159.7,873.5 1162.0,874.4 1164.4,875.2 1166.7,876.1 1169.1,876.9 1171.4,877.8 1173.8,878.6 1176.1,879.4 1178.5,880.2 1180.9,881.0 1183.2,881.8 1185.6,882.5 1188.0,883.3 1190.4,884.1 1192.8,884.8 1195.2,885.5 1197.6,886.2 1200.0,886.9 1202.4,887.6 1204.8,888.3 1207.2,889.0 1209.6,889.7 1212.0,890.3 1214.4,890.9 1216.9,891.6 1219.3,892.2 1221.7,892.8 1224.2,893.4 1226.6,894.0 1229.0,894.6 1231.5,895.1 1233.9,895.7 1236.4,896.2 1238.8,896.7 1241.3,897.2 1243.8,897.8 1246.2,898.2 1248.7,898.7 1251.2,899.2 1253.7,899.7 1256.2,900.1 1258.6,900.5 1261.1,901.0 1263.6,901.4 1266.1,901.8 1268.6,902.2 1271.1,902.5 1273.6,902.9 1276.1,903.2 1278.6,903.6 1281.2,903.9 1283.7,904.2 1286.2,904.5 1288.7,904.8 1291.3,905.1 1293.8,905.4 1296.3,905.6 1298.9,905.9 1301.4,906.1 1303.9,906.3 1306.5,906.5 1309.0,906.7 1311.6,906.9 1314.1,907.1 1316.7,907.2 1319.3,907.4 1321.8,907.5 1324.4,907.6 1327.0,907.7"/>
<path stroke="#50e650" d="M195.9,878.6 197.9,877.0 199.9,875.5 201.8,873.9 203.8,872.3 205.7,870.7 207.6,869.1 209.5,867.5 211.4,865.8 213.3,864.2 215.1,862.5 217.0,860.8 218.8,859.1 220.7,857.4 222.5,855.7 224.3,854.0 226.1,852.2 227.8,850.5 229.6,848.7 231.3,846.9 233.1,845.1 234.8,843.3 236.5,841.5 238.2,839.7 239.9,837.8 241.6,836.0 243.3,834.1 244.9,832.3 246.6,830.4 248.2,828.5 249.8,826.6 251.5,824.7 253.1,822.8 254.6,820.9 256.2,818.9 257.8,817.0 259.4,815.0 260.9,813.0 262.4,811.1 264.0,809.1 265.5,807.1 267.0,805.1 268.5,803.1 270.0,801.1 271.4,799.1 272.9,797.0 274.3,795.0 275.8,792.9 277.2,790.9 278.7,788.8 280.1,786.8 281.5,784.7 282.9,782.6 284.2,780.5 285.6,778.4 287.0,776.3 288.3,774.2 289.7,772.1 291.0,770.0 292.4,767.9 293.7,765.8 295.0,763.6 296.3,761.5 297.6,759.4 298.9,757.2 300.1,755.1 301.4,752.9 302.7,750.8 303.9,748.6 305.1,746.4 306.4,744.3 307.6,742.1 308.8,739.9 310.0,737.7 311.2,735.6 312.4,733.4 313.6,731.2 314.8,729.0 315.9,726.8 317.1,724.6 318.2,722.4 319.4,720.2 320.5,718.0 321.6,715.8 322.7,713.6 323.9,711.3 325.0,709.1 326.1,706.9 327.2,704.7 328.2,702.4 329.3,700.2 330.4,698.0 331.4,695.7 332.5,693.5 333.5,691.2 334.6,689.0 335.6,686.7 336.6,684.5 337.7,682.2 338.7,680.0 339.7,677.7 340.7,675.4 341.7,673.2 342.7,670.9 343.6,668.6 344.6,666.4 345.6,664.1 346.6,661.8 347.5,659.5 348.5,657.2 349.4,654.9 350.4,652.7 351.3,650.4 352.2,648.1 353.1,645.8 354.1,643.5 355.0,641.2 355.9,638.9 356.8,636.6 357.7,634.2 358.6,631.9 359.5,629.6 360.3,627.3 361.2,625.0 362.1,622.7 362.9,620.3 363.8,618.0 364.7,615.7 365.5,613.4 366.4,611.0 367.2,608.7 368.1,606.4 368.9,604.0 369.7,601.7 370.5,599.3 371.4,597.0 372.2,594.7 373.0,592.3 373.8,590.0 374.6,587.6 375.4,585.3 376.2,582.9 377.0,580.6 377.8,578.2 378.6,575.8 379.4,573.5 380.2,571.1 380.9,568.8 381.7,566.4 382.5,564.0 383.2,561.7 384.0,559.3 384.8,556.9 385.5,554.5 386.3,552.2 387.0,549.8 387.8,547.4 388.5,545.0 389.3,542.7 390.0,540.3 390.8,537.9 391.5,535.5 392.2,533.1 393.0,530.8 393.7,528.4 394.4,526.0 395.1,523.6 395.9,521.2 396.6,518.8 397.3,516.4 398.0,514.0 398.8,511.6 399.5,509.2 400.2,506.8 400.9,504.4 401.6,502.1 402.3,499.7 403.0,497.3 403.7,494.9 404.4,492.5 405.1,490.1 405.8,487.7 406.5,485.2 407.2,482.8 407.9,480.4 408.6,478.0 409.3,475.6 410.0,473.2 410.7,470.8 411.4,468.4 412.1,466.0 412.8,463.6 413.5,461.2 414.2,458.8 414.9,456.4 415.6,454.0 416.3,451.6 417.0,449.1 417.7,446.7 418.4,444.3 419.1,441.9 419.8,439.5 420.5,437.1 421.2,434.7 421.8,432.3 422.5,429.9 423.2,427.4 423.9,425.0 424.6,422.6 425.3,420.2 426.0,417.8 426.7,415.4 427.5,413.0 428.2,410.6 428.9,408.2 429.6,405.8 430.3,403.3 431.0,400.9 431.7,398.5 432.4,396.1 433.1,393.7 433.9,391.3 434.6,388.9 435.3,386.5 436.0,384.1 436.8,381.7 437.5,379.3 438.2,376.9 439.0,374.5 439.7,372.1 440.5,369.7 441.2,367.3 442.0,364.9 442.7,362.6 443.5,360.2 444.2,357.8 445.0,355.4 445.7,353.0 446.5,350.6 447.3,348.2 448.1,345.9 448.8,343.5 449.6,341.1 450.4,338.7 451.2,336.4 452.0,334.0 452.8,331.6 453.6,329.3 454.4,326.9 455.2,324.5 456.1,322.2 456.9,319.8 457.7,317.5 458.5,315.1 459.4,312.7 460.2,310.4 461.1,308.0 461.9,305.7 462.8,303.4 463.7,301.0 464.5,298.7 465.4,296.4 466.3,294.0 467.2,291.7 468.1,289.4 469.0,287.0 469.9,284.7 470.8,282.4 471.7,280.1 472.6,277.8 473.5,275.5 474.5,273.2 475.4,270.9 476.4,268.6 477.3,266.3 478.3,264.0 479.3,261.7 480.2,259.5 481.2,257.2 482.2,254.9 483.2,252.7 484.2,250.4 485.2,248.2 486.2,245.9 487.2,243.7 488.3,241.5 489.3,239.3 490.3,237.1 491.4,234.9 492.4,232.7 493.5,230.6 494.6,228.4 495.6,226.3 496.7,224.1 497.8,222.0 498.9,219.9 500.0,217.8 501.1,215.7 502.2,213.6 503.3,211.5 504.4,209.5 505.6,207.4 506.7,205.4 507.9,203.4 509.0,201.4 510.2,199.4 511.3,197.5 512.5,195.5 513.7,193.5 514.9,191.6 516.1,189.7 517.3,187.7 518.5,185.8 519.7,183.9 520.9,182.0 522.2,180.1 523.4,178.2 524.7,176.2 525.9,174.3 527.2,172.4 528.5,170.5 529.8,168.5 531.0,166.6 532.4,164.6 533.7,162.7 535.0,160.7 536.3,158.7 537.7,156.7 539.0,154.7 540.4,152.7 541.8,150.6 543.1,148.6 544.6,146.5 546.0,144.4 547.4,142.4 548.9,140.3 550.4,138.3 551.9,136.2 553.4,134.2 555.0,132.2 556.6,130.3 558.3,128.4 560.0,126.5 561.7,124.6 563.5,122.8 565.3,121.1 567.2,119.4 569.1,117.8 571.1,116.2 573.1,114.7 575.2,113.3 577.4,111.9 579.6,110.6 581.8,109.5 584.2,108.4 586.5,107.4 588.9,106.4 591.4,105.6 593.8,104.9 596.3,104.3 598.8,103.8 601.3,103.4 603.8,103.0 606.3,102.9 608.8,102.8 611.3,102.8 613.7,103.0 616.2,103.3 618.6,103.7 620.9,104.2 623.3,104.9 625.5,105.7 627.8,106.6 629.9,107.7 632.0,108.9 634.1,110.2 636.1,111.6 638.1,113.1 640.0,114.7 641.9,116.4 643.7,118.2 645.5,120.0 647.2,121.9 648.9,123.9 650.6,125.9 652.2,127.9 653.8,130.0 655.4,132.1 656.9,134.2 658.4,136.4 659.9,138.5 661.4,140.7 662.8,142.8 664.2,144.9 665.5,147.0 666.9,149.1 668.2,151.2 669.5,153.2 670.8,155.3 672.1,157.3 673.4,159.4 674.6,161.4 675.8,163.4 677.0,165.4 678.2,167.4 679.4,169.4 680.6,171.5 681.7,173.5 682.9,175.5 684.0,177.5 685.1,179.5 686.3,181.5 687.4,183.6 688.5,185.6 689.6,187.7 690.7,189.7 691.8,191.8 692.9,193.9 693.9,196.0 695.0,198.1 696.1,200.2 697.1,202.3 698.2,204.4 699.3,206.5 700.3,208.7 701.4,210.8 702.4,213.0 703.4,215.1 704.5,217.3 705.5,219.5 706.5,221.6 707.6,223.8 708.6,226.0 709.6,228.2 710.6,230.4 711.6,232.6 712.6,234.8 713.6,237.1 714.6,239.3 715.6,241.5 716.6,243.8 717.6,246.0 718.6,248.3 719.6,250.5 720.6,252.8 721.6,255.0 722.6,257.3 723.5,259.6 724.5,261.9 725.5,264.1 726.5,266.4 727.5,268.7 728.4,271.0 729.4,273.3 730.4,275.6 731.4,277.9 732.3,280.2 733.3,282.5 734.3,284.8 735.2,287.1 736.2,289.5 737.2,291.8 738.1,294.1 739.1,296.4 740.1,298.7 741.1,301.1 742.0,303.4 743.0,305.7 744.0,308.0 744.9,310.4 745.9,312.7 746.9,315.0 747.9,317.3 748.8,319.7 749.8,322.0 750.8,324.3 751.8,326.7 752.8,329.0 753.8,331.3 754.7,333.7 755.7,336.0 756.7,338.3 757.7,340.6 758.7,343.0 759.7,345.3 760.7,347.6 761.7,349.9 762.7,352.2 763.7,354.6 764.7,356.9 765.8,359.2 766.8,361.5 767.8,363.8 768.8,366.1 769.8,368.4 770.9,370.7 771.9,373.0 773.0,375.3 774.0,377.6 775.0,379.9 776.1,382.1 777.2,384.4 778.2,386.7 779.3,389.0 780.3,391.2 781.4,393.5 782.5,395.8 783.6,398.0 784.6,400.3 785.7,402.5 786.8,404.8 787.9,407.0 789.0,409.3 790.1,411.5 791.2,413.8 792.3,416.0 793.4,418.2 794.5,420.5 795.6,422.7 796.7,424.9 797.9,427.2 799.0,429.4 800.1,431.6 801.2,433.8 802.4,436.1 803.5,438.3 804.6,440.5 805.8,442.7 806.9,444.9 808.1,447.1 809.2,449.3 810.4,451.5 811.5,453.7 812.7,455.9 813.8,458.1 815.0,460.3 816.1,462.5 817.3,464.7 818.5,466.9 819.6,469.1 820.8,471.3 822.0,473.5 823.1,475.7 824.3,477.9 825.5,480.1 826.7,482.3 827.9,484.5 829.0,486.6 830.2,488.8 831.4,491.0 832.6,493.2 833.8,495.4 835.0,497.6 836.2,499.7 837.4,501.9 838.6,504.1 839.8,506.3 841.0,508.5 842.2,510.6 843.4,512.8 844.6,515.0 845.8,517.2 847.0,519.3 848.2,521.5 849.4,523.7 850.6,525.9 851.9,528.0 853.1,530.2 854.3,532.4 855.5,534.6 856.7,536.7 857.9,538.9 859.2,541.1 860.4,543.3 861.6,545.4 862.8,547.6 864.0,549.8 865.3,552.0 866.5,554.2 867.7,556.3 868.9,558.5 870.2,560.7 871.4,562.9 872.6,565.1 873.8,567.2 875.1,569.4 876.3,571.6 877.5,573.8 878.7,576.0 880.0,578.2 881.2,580.3 882.4,582.5 883.7,584.7 884.9,586.9 886.1,589.1 887.3,591.3 888.6,593.5 889.8,595.7 891.0,597.9 892.3,600.1 893.5,602.3 894.7,604.5 896.0,606.7 897.2,608.9 898.4,611.1 899.7,613.2 900.9,615.4 902.2,617.6 903.4,619.8 904.7,622.0 905.9,624.2 907.2,626.4 908.5,628.6 909.7,630.7 911.0,632.9 912.3,635.1 913.6,637.3 914.8,639.4 916.1,641.6 917.4,643.8 918.7,645.9 920.0,648.1 921.3,650.2 922.6,652.4 924.0,654.5 925.3,656.6 926.6,658.8 928.0,660.9 929.3,663.0 930.7,665.1 932.0,667.2 933.4,669.3 934.8,671.4 936.2,673.5 937.6,675.6 939.0,677.7 940.4,679.7 941.8,681.8 943.2,683.9 944.7,685.9 946.1,687.9 947.6,690.0 949.0,692.0 950.5,694.0 952.0,696.0 953.5,698.0 955.0,700.0 956.5,702.0 958.1,704.0 959.6,705.9 961.2,707.9 962.7,709.8 964.3,711.7 965.9,713.7 967.5,715.6 969.1,717.5 970.7,719.4 972.3,721.2 974.0,723.1 975.6,725.0 977.3,726.8 979.0,728.7 980.7,730.5 982.4,732.3 984.1,734.1 985.8,735.9 987.5,737.7 989.2,739.5 991.0,741.3 992.7,743.0 994.5,744.8 996.3,746.5 998.1,748.2 999.9,750.0 1001.7,751.7 1003.5,753.4 1005.3,755.0 1007.2,756.7 1009.0,758.4 1010.9,760.0 1012.7,761.7 1014.6,763.3 1016.5,764.9 1018.4,766.5 1020.3,768.1 1022.2,769.7 1024.1,771.3 1026.1,772.9 1028.0,774.4 1029.9,775.9 1031.9,777.5 1033.9,779.0 1035.8,780.5 1037.8,782.0 1039.8,783.5 1041.8,785.0 1043.8,786.4 1045.8,787.9 1047.9,789.3 1049.9,790.7 1051.9,792.2 1054.0,793.6 1056.0,795.0 1058.1,796.3 1060.2,797.7 1062.3,799.1 1064.4,800.4 1066.5,801.7 1068.6,803.1 1070.7,804.4 1072.8,805.7 1074.9,807.0 1077.0,808.2 1079.2,809.5 1081.3,810.7 1083.5,812.0 1085.6,813.2 1087.8,814.4 1090.0,815.6 1092.2,816.8 1094.4,818.0 1096.6,819.2 1098.8,820.3 1101.0,821.5 1103.2,822.6 1105.4,823.7 1107.6,824.8 1109.9,825.9 1112.1,827.0 1114.3,828.1 1116.6,829.1 1118.9,830.2 1121.1,831.3 1123.4,832.3 1125.6,833.3 1127.9,834.3 1130.2,835.4 1132.5,836.4 1134.8,837.3 1137.1,838.3 1139.4,839.3 1141.7,840.3 1144.0,841.2 1146.3,842.2 1148.6,843.1 1150.9,844.1 1153.3,845.0 1155.6,845.9 1157.9,846.8 1160.3,847.7 1162.6,848.6 1164.9,849.5 1167.3,850.4 1169.6,851.3 1172.0,852.2 1174.3,853.1 1176.7,853.9 1179.1,854.8 1181.4,855.6 1183.8,856.5 1186.1,857.3 1188.5,858.2 1190.9,859.0 1193.3,859.8 1195.6,860.7 1198.0,861.5 1200.4,862.3 1202.8,863.1 1205.1,863.9 1207.5,864.7 1209.9,865.5 1212.3,866.3 1214.7,867.1 1217.1,867.9 1219.5,868.7 1221.8,869.5 1224.2,870.3 1226.6,871.1 1229.0,871.9 1231.4,872.7 1233.8,873.5 1236.2,874.2 1238.6,875.0 1241.0,875.8 1243.3,876.6 1245.7,877.3 1248.1,878.1 1250.5,878.9 1252.9,879.7 1255.3,880.5 1257.7,881.2 1260.0,882.0 1262.4,882.8 1264.8,883.6 1267.2,884.4 1269.6,885.1 1271.9,885.9 1274.3,886.7 1276.7,887.5 1279.1,888.3 1281.4,889.1 1283.8,889.9 1286.2,890.7 1288.5,891.5 1290.9,892.3 1293.2,893.1 1295.6,893.9 1297.9,894.7 1300.3,895.5 1302.6,896.3 1305.0,897.1 1307.3,898.0 1309.6,898.8 1312.0,899.6 1314.3,900.5 1316.6,901.3 1319.0,902.1 1321.3,903.0 1323.6,903.9 1325.9,904.7"/>
<path stroke="#137520" d="M195.0,904.4 197.7,904.0 200.4,903.6 203.1,903.1 205.7,902.7 208.4,902.1 211.0,901.6 213.5,901.0 216.1,900.3 218.6,899.6 221.1,898.9 223.5,898.2 226.0,897.4 228.4,896.6 230.7,895.7 233.1,894.8 235.4,893.9 237.7,893.0 240.0,892.0 242.3,891.0 244.5,889.9 246.7,888.8 248.9,887.7 251.1,886.6 253.2,885.4 255.4,884.2 257.5,883.0 259.5,881.8 261.6,880.5 263.6,879.2 265.6,877.8 267.6,876.5 269.6,875.1 271.5,873.6 273.5,872.2 275.4,870.7 277.3,869.2 279.1,867.7 281.0,866.2 282.8,864.6 284.6,863.0 286.4,861.4 288.1,859.7 289.9,858.1 291.6,856.4 293.3,854.7 295.0,853.0 296.7,851.2 298.4,849.5 300.0,847.7 301.6,845.9 303.2,844.1 304.8,842.2 306.4,840.4 308.0,838.5 309.5,836.6 311.0,834.7 312.5,832.7 314.0,830.8 315.5,828.8 317.0,826.9 318.4,824.9 319.8,822.9 321.3,820.8 322.7,818.8 324.1,816.8 325.4,814.7 326.8,812.6 328.2,810.5 329.5,808.4 330.8,806.3 332.1,804.2 333.4,802.1 334.7,799.9 336.0,797.8 337.3,795.6 338.5,793.5 339.8,791.3 341.0,789.1 342.2,786.9 343.4,784.7 344.6,782.5 345.8,780.3 347.0,778.1 348.2,775.9 349.4,773.6 350.5,771.4 351.7,769.1 352.8,766.9 353.9,764.7 355.0,762.4 356.1,760.1 357.2,757.9 358.3,755.6 359.4,753.4 360.5,751.1 361.6,748.8 362.6,746.5 363.7,744.3 364.8,742.0 365.8,739.7 366.8,737.4 367.9,735.1 368.9,732.8 369.9,730.5 370.9,728.2 371.9,725.9 372.9,723.6 373.9,721.3 374.8,719.0 375.8,716.7 376.8,714.4 377.7,712.1 378.7,709.7 379.6,707.4 380.6,705.1 381.5,702.8 382.4,700.4 383.3,698.1 384.3,695.8 385.2,693.4 386.1,691.1 387.0,688.7 387.9,686.4 388.8,684.0 389.6,681.7 390.5,679.3 391.4,677.0 392.2,674.6 393.1,672.3 394.0,669.9 394.8,667.6 395.7,665.2 396.5,662.8 397.3,660.5 398.2,658.1 399.0,655.7 399.8,653.4 400.6,651.0 401.5,648.6 402.3,646.2 403.1,643.9 403.9,641.5 404.7,639.1 405.5,636.7 406.3,634.4 407.0,632.0 407.8,629.6 408.6,627.2 409.4,624.8 410.2,622.4 410.9,620.0 411.7,617.7 412.5,615.3 413.2,612.9 414.0,610.5 414.7,608.1 415.5,605.7 416.2,603.3 417.0,600.9 417.7,598.5 418.5,596.1 419.2,593.7 419.9,591.4 420.7,589.0 421.4,586.6 422.1,584.2 422.9,581.8 423.6,579.4 424.3,577.0 425.1,574.6 425.8,572.2 426.5,569.8 427.2,567.4 427.9,565.0 428.7,562.6 429.4,560.2 430.1,557.8 430.8,555.4 431.5,553.0 432.2,550.6 432.9,548.2 433.6,545.8 434.4,543.4 435.1,541.1 435.8,538.7 436.5,536.3 437.2,533.9 437.9,531.5 438.6,529.1 439.3,526.7 440.0,524.3 440.7,521.9 441.4,519.6 442.2,517.2 442.9,514.8 443.6,512.4 444.3,510.0 445.0,507.6 445.7,505.3 446.4,502.9 447.1,500.5 447.8,498.1 448.6,495.8 449.3,493.4 450.0,491.0 450.7,488.6 451.4,486.3 452.1,483.9 452.9,481.5 453.6,479.1 454.3,476.8 455.0,474.4 455.8,472.0 456.5,469.7 457.2,467.3 457.9,465.0 458.7,462.6 459.4,460.2 460.1,457.9 460.9,455.5 461.6,453.1 462.4,450.8 463.1,448.4 463.8,446.1 464.6,443.7 465.3,441.4 466.1,439.0 466.8,436.7 467.6,434.3 468.3,431.9 469.1,429.6 469.8,427.2 470.6,424.9 471.4,422.5 472.1,420.2 472.9,417.9 473.7,415.5 474.4,413.2 475.2,410.8 476.0,408.5 476.8,406.1 477.5,403.8 478.3,401.4 479.1,399.1 479.9,396.8 480.7,394.4 481.5,392.1 482.3,389.7 483.1,387.4 483.9,385.1 484.7,382.7 485.5,380.4 486.3,378.0 487.1,375.7 487.9,373.4 488.7,371.0 489.6,368.7 490.4,366.4 491.2,364.0 492.1,361.7 492.9,359.4 493.7,357.0 494.6,354.7 495.4,352.4 496.3,350.0 497.1,347.7 498.0,345.4 498.8,343.1 499.7,340.7 500.6,338.4 501.4,336.1 502.3,333.7 503.2,331.4 504.1,329.1 505.0,326.8 505.9,324.4 506.8,322.1 507.7,319.8 508.6,317.5 509.5,315.1 510.4,312.8 511.3,310.5 512.2,308.2 513.2,305.8 514.1,303.5 515.0,301.2 516.0,298.9 516.9,296.6 517.8,294.2 518.8,291.9 519.8,289.6 520.7,287.3 521.7,285.0 522.7,282.6 523.6,280.3 524.6,278.0 525.6,275.7 526.6,273.4 527.6,271.0 528.6,268.7 529.6,266.4 530.6,264.1 531.6,261.8 532.6,259.5 533.7,257.1 534.7,254.8 535.7,252.5 536.8,250.2 537.8,247.9 538.9,245.6 539.9,243.2 541.0,240.9 542.1,238.6 543.2,236.3 544.2,234.0 545.3,231.7 546.4,229.3 547.5,227.0 548.6,224.7 549.7,222.4 550.9,220.1 552.0,217.8 553.1,215.4 554.2,213.1 555.4,210.8 556.5,208.5 557.7,206.2 558.9,203.9 560.0,201.6 561.2,199.3 562.4,197.0 563.6,194.7 564.8,192.4 566.1,190.2 567.3,187.9 568.6,185.7 569.8,183.4 571.1,181.2 572.4,179.0 573.7,176.8 575.0,174.6 576.4,172.4 577.7,170.3 579.1,168.1 580.5,166.0 581.9,163.9 583.3,161.8 584.8,159.8 586.2,157.7 587.7,155.7 589.2,153.7 590.8,151.7 592.3,149.8 593.9,147.9 595.5,146.0 597.1,144.1 598.7,142.2 600.4,140.4 602.1,138.6 603.8,136.9 605.6,135.2 607.3,133.5 609.1,131.8 611.0,130.2 612.8,128.6 614.7,127.0 616.6,125.5 618.6,124.0 620.5,122.6 622.5,121.2 624.6,119.8 626.6,118.5 628.7,117.2 630.9,115.9 633.0,114.7 635.2,113.5 637.5,112.4 639.7,111.3 642.1,110.3 644.4,109.3 646.7,108.4 649.1,107.6 651.5,106.8 653.9,106.0 656.4,105.4 658.8,104.8 661.3,104.2 663.7,103.8 666.2,103.4 668.6,103.1 671.1,102.9 673.5,102.8 676.0,102.8 678.4,102.9 680.8,103.1 683.2,103.3 685.6,103.7 687.9,104.2 690.2,104.8 692.5,105.5 694.8,106.3 697.0,107.1 699.2,108.1 701.4,109.1 703.5,110.3 705.7,111.5 707.7,112.8 709.8,114.2 711.8,115.6 713.8,117.1 715.7,118.7 717.6,120.4 719.5,122.1 721.3,123.9 723.0,125.7 724.8,127.6 726.5,129.6 728.1,131.6 729.8,133.6 731.3,135.7 732.9,137.8 734.4,140.0 735.9,142.2 737.4,144.4 738.8,146.7 740.3,148.9 741.7,151.2 743.0,153.5 744.4,155.8 745.7,158.2 747.0,160.5 748.4,162.9 749.6,165.2 750.9,167.5 752.2,169.9 753.4,172.2 754.7,174.5 755.9,176.8 757.1,179.2 758.3,181.5 759.5,183.8 760.7,186.1 761.9,188.4 763.1,190.7 764.3,192.9 765.5,195.2 766.7,197.5 767.8,199.7 769.0,202.0 770.2,204.2 771.4,206.5 772.6,208.7 773.8,210.9 774.9,213.1 776.1,215.3 777.3,217.5 778.5,219.6 779.8,221.8 781.0,224.0 782.2,226.1 783.4,228.3 784.6,230.4 785.8,232.6 787.0,234.7 788.2,236.8 789.4,239.0 790.6,241.1 791.9,243.2 793.1,245.3 794.3,247.5 795.5,249.6 796.7,251.7 797.9,253.9 799.1,256.0 800.3,258.1 801.5,260.3 802.7,262.4 803.8,264.6 805.0,266.7 806.2,268.9 807.3,271.1 808.5,273.3 809.7,275.4 810.8,277.6 812.0,279.8 813.1,282.0 814.3,284.2 815.4,286.4 816.5,288.7 817.7,290.9 818.8,293.1 819.9,295.3 821.0,297.6 822.2,299.8 823.3,302.0 824.4,304.3 825.5,306.5 826.6,308.8 827.8,311.0 828.9,313.3 830.0,315.5 831.1,317.8 832.2,320.0 833.3,322.3 834.4,324.5 835.5,326.8 836.7,329.1 837.8,331.3 838.9,333.6 840.0,335.9 841.1,338.1 842.2,340.4 843.4,342.6 844.5,344.9 845.6,347.2 846.7,349.4 847.9,351.7 849.0,353.9 850.1,356.2 851.3,358.5 852.4,360.7 853.6,363.0 854.7,365.2 855.9,367.4 857.0,369.7 858.2,371.9 859.3,374.2 860.5,376.4 861.7,378.6 862.9,380.9 864.0,383.1 865.2,385.3 866.4,387.5 867.6,389.7 868.8,391.9 870.1,394.1 871.3,396.3 872.5,398.5 873.7,400.7 875.0,402.8 876.2,405.0 877.5,407.2 878.7,409.4 880.0,411.5 881.3,413.7 882.5,415.8 883.8,418.0 885.1,420.1 886.4,422.3 887.7,424.4 889.0,426.5 890.3,428.7 891.6,430.8 892.9,432.9 894.2,435.0 895.5,437.2 896.8,439.3 898.1,441.4 899.4,443.5 900.7,445.6 902.1,447.7 903.4,449.8 904.7,451.9 906.1,454.0 907.4,456.1 908.7,458.2 910.1,460.3 911.4,462.4 912.7,464.5 914.1,466.6 915.4,468.7 916.8,470.8 918.1,472.9 919.4,475.0 920.8,477.1 922.1,479.2 923.5,481.3 924.8,483.4 926.2,485.5 927.5,487.6 928.8,489.7 930.2,491.8 931.5,493.9 932.8,496.0 934.2,498.1 935.5,500.2 936.8,502.3 938.2,504.5 939.5,506.6 940.8,508.7 942.2,510.8 943.5,512.9 944.8,515.0 946.1,517.1 947.4,519.3 948.7,521.4 950.0,523.5 951.3,525.7 952.6,527.8 953.9,529.9 955.2,532.1 956.5,534.2 957.8,536.4 959.1,538.5 960.3,540.7 961.6,542.8 962.9,545.0 964.1,547.2 965.4,549.4 966.6,551.5 967.9,553.7 969.1,555.9 970.4,558.1 971.6,560.3 972.9,562.4 974.1,564.6 975.3,566.8 976.6,569.0 977.8,571.2 979.0,573.4 980.3,575.6 981.5,577.8 982.7,580.0 984.0,582.2 985.2,584.4 986.4,586.6 987.7,588.7 988.9,590.9 990.2,593.1 991.4,595.3 992.6,597.5 993.9,599.7 995.1,601.8 996.4,604.0 997.7,606.2 998.9,608.4 1000.2,610.5 1001.5,612.7 1002.7,614.8 1004.0,617.0 1005.3,619.1 1006.6,621.3 1007.9,623.4 1009.2,625.5 1010.5,627.7 1011.9,629.8 1013.2,631.9 1014.5,634.0 1015.9,636.1 1017.2,638.2 1018.6,640.3 1019.9,642.4 1021.3,644.4 1022.7,646.5 1024.1,648.5 1025.5,650.6 1026.9,652.6 1028.4,654.6 1029.8,656.7 1031.3,658.7 1032.7,660.7 1034.2,662.7 1035.7,664.6 1037.2,666.6 1038.7,668.6 1040.2,670.5 1041.7,672.5 1043.3,674.4 1044.8,676.3 1046.4,678.2 1047.9,680.2 1049.5,682.0 1051.1,683.9 1052.7,685.8 1054.3,687.7 1055.9,689.5 1057.6,691.4 1059.2,693.2 1060.9,695.1 1062.5,696.9 1064.2,698.7 1065.9,700.5 1067.6,702.3 1069.3,704.1 1071.0,705.9 1072.7,707.7 1074.4,709.5 1076.1,711.2 1077.9,713.0 1079.6,714.7 1081.4,716.4 1083.2,718.2 1084.9,719.9 1086.7,721.6 1088.5,723.3 1090.3,725.0 1092.1,726.7 1094.0,728.3 1095.8,730.0 1097.6,731.7 1099.5,733.3 1101.3,735.0 1103.2,736.6 1105.1,738.2 1106.9,739.8 1108.8,741.4 1110.7,743.1 1112.6,744.6 1114.5,746.2 1116.4,747.8 1118.3,749.4 1120.3,751.0 1122.2,752.5 1124.1,754.1 1126.1,755.6 1128.0,757.2 1130.0,758.7 1132.0,760.2 1133.9,761.7 1135.9,763.2 1137.9,764.7 1139.9,766.2 1141.9,767.7 1143.9,769.2 1145.9,770.7 1147.9,772.1 1150.0,773.6 1152.0,775.0 1154.0,776.5 1156.1,777.9 1158.1,779.4 1160.2,780.8 1162.2,782.2 1164.3,783.6 1166.3,785.0 1168.4,786.4 1170.5,787.8 1172.6,789.2 1174.7,790.6 1176.7,791.9 1178.8,793.3 1180.9,794.7 1183.1,796.0 1185.2,797.4 1187.3,798.7 1189.4,800.0 1191.5,801.4 1193.6,802.7 1195.8,804.0 1197.9,805.3 1200.1,806.6 1202.2,807.9 1204.3,809.2 1206.5,810.5 1208.7,811.8 1210.8,813.0 1213.0,814.3 1215.1,815.6 1217.3,816.8 1219.5,818.1 1221.7,819.3 1223.8,820.6 1226.0,821.8 1228.2,823.0 1230.4,824.2 1232.6,825.5 1234.8,826.7 1237.0,827.9 1239.2,829.1 1241.4,830.3 1243.6,831.5 1245.8,832.7 1248.0,833.8 1250.2,835.0 1252.4,836.2 1254.6,837.3 1256.8,838.5 1259.0,839.7 1261.2,840.8 1263.5,842.0 1265.7,843.1 1267.9,844.2 1270.1,845.4 1272.4,846.5 1274.6,847.6 1276.8,848.7 1279.0,849.8 1281.3,851.0 1283.5,852.1 1285.7,853.2 1288.0,854.3 1290.2,855.3 1292.4,856.4 1294.7,857.5 1296.9,858.6 1299.1,859.7 1301.4,860.7 1303.6,861.8 1305.8,862.8 1308.1,863.9 1310.3,865.0 1312.5,866.0 1314.8,867.0 1317.0,868.1 1319.2,869.1 1321.5,870.2 1323.7,871.2 1325.9,872.2"/>
<path stroke="#eef030" d="M195.7,911.9 198.2,912.0 200.7,912.1 203.3,912.2 205.8,912.2 208.3,912.3 210.8,912.3 213.3,912.3 215.8,912.3 218.3,912.3 220.9,912.2 223.4,912.2 225.9,912.1 228.4,912.0 230.9,911.9 233.4,911.8 235.9,911.6 238.5,911.5 241.0,911.3 243.5,911.1 246.0,910.9 248.5,910.7 251.0,910.5 253.5,910.3 256.0,910.0 258.5,909.7 261.0,909.4 263.5,909.1 266.0,908.8 268.5,908.5 271.0,908.1 273.5,907.7 276.0,907.3 278.5,906.9 281.0,906.5 283.5,906.1 286.0,905.6 288.4,905.2 290.9,904.7 293.4,904.2 295.8,903.7 298.3,903.2 300.8,902.6 303.2,902.1 305.7,901.5 308.1,900.9 310.6,900.3 313.0,899.7 315.4,899.1 317.9,898.4 320.3,897.7 322.7,897.1 325.1,896.4 327.5,895.7 330.0,894.9 332.4,894.2 334.8,893.4 337.1,892.7 339.5,891.9 341.9,891.1 344.3,890.3 346.6,889.4 349.0,888.6 351.4,887.7 353.7,886.8 356.0,885.9 358.4,885.0 360.7,884.1 363.0,883.2 365.3,882.2 367.6,881.3 369.9,880.3 372.2,879.3 374.5,878.3 376.8,877.2 379.1,876.2 381.3,875.1 383.6,874.1 385.8,873.0 388.1,871.9 390.3,870.7 392.5,869.6 394.7,868.5 396.9,867.3 399.1,866.1 401.3,864.9 403.5,863.7 405.6,862.5 407.8,861.3 409.9,860.0 412.1,858.7 414.2,857.5 416.3,856.2 418.4,854.9 420.5,853.5 422.6,852.2 424.7,850.8 426.8,849.5 428.8,848.1 430.9,846.7 432.9,845.3 434.9,843.8 436.9,842.4 438.9,840.9 440.9,839.5 442.9,838.0 444.9,836.5 446.8,835.0 448.8,833.4 450.7,831.9 452.6,830.3 454.5,828.8 456.4,827.2 458.3,825.6 460.2,824.0 462.0,822.3 463.9,820.7 465.7,819.0 467.5,817.4 469.3,815.7 471.1,814.0 472.9,812.2 474.6,810.5 476.4,808.8 478.1,807.0 479.9,805.2 481.6,803.4 483.3,801.6 484.9,799.8 486.6,798.0 488.3,796.1 489.9,794.3 491.5,792.4 493.1,790.5 494.7,788.6 496.3,786.7 497.8,784.8 499.4,782.8 500.9,780.9 502.4,778.9 503.9,776.9 505.4,774.9 506.9,772.9 508.3,770.9 509.8,768.8 511.2,766.8 512.6,764.7 514.0,762.6 515.3,760.5 516.7,758.4 518.0,756.3 519.3,754.1 520.6,752.0 521.9,749.8 523.2,747.6 524.4,745.4 525.7,743.2 526.9,741.0 528.1,738.8 529.3,736.6 530.5,734.3 531.6,732.1 532.8,729.8 533.9,727.6 535.0,725.3 536.2,723.0 537.3,720.7 538.3,718.4 539.4,716.1 540.5,713.8 541.5,711.4 542.6,709.1 543.6,706.8 544.6,704.4 545.6,702.1 546.6,699.7 547.6,697.4 548.5,695.0 549.5,692.7 550.4,690.3 551.4,687.9 552.3,685.6 553.2,683.2 554.2,680.8 555.1,678.4 555.9,676.0 556.8,673.7 557.7,671.3 558.6,668.9 559.4,666.5 560.3,664.1 561.1,661.8 562.0,659.4 562.8,657.0 563.6,654.6 564.5,652.2 565.3,649.9 566.1,647.5 566.9,645.1 567.7,642.8 568.5,640.4 569.3,638.1 570.0,635.7 570.8,633.4 571.6,631.0 572.3,628.7 573.1,626.4 573.9,624.0 574.6,621.7 575.4,619.4 576.1,617.1 576.9,614.8 577.6,612.5 578.4,610.2 579.1,608.0 579.8,605.7 580.6,603.5 581.3,601.2 582.0,599.0 582.8,596.8 583.5,594.6 584.2,592.4 585.0,590.2 585.7,588.0 586.4,585.8 587.2,583.7 587.9,581.5 588.6,579.4 589.4,577.3 590.1,575.2 590.8,573.1 591.5,571.0 592.3,568.9 593.0,566.8 593.7,564.7 594.4,562.6 595.1,560.5 595.8,558.4 596.5,556.3 597.3,554.2 597.9,552.1 598.6,549.9 599.3,547.8 600.0,545.7 600.7,543.5 601.4,541.4 602.0,539.2 602.7,537.0 603.3,534.8 604.0,532.6 604.6,530.4 605.3,528.1 605.9,525.8 606.5,523.5 607.1,521.2 607.7,518.9 608.3,516.6 608.9,514.3 609.5,511.9 610.1,509.5 610.7,507.2 611.2,504.8 611.8,502.4 612.4,500.0 613.0,497.6 613.5,495.1 614.1,492.7 614.7,490.3 615.2,487.9 615.8,485.4 616.4,483.0 617.0,480.5 617.5,478.1 618.1,475.7 618.7,473.2 619.3,470.8 619.8,468.3 620.4,465.9 621.0,463.5 621.6,461.0 622.2,458.6 622.8,456.2 623.4,453.8 624.0,451.3 624.6,448.9 625.2,446.5 625.8,444.1 626.4,441.7 627.0,439.2 627.7,436.8 628.3,434.4 628.9,432.0 629.5,429.6 630.1,427.2 630.8,424.8 631.4,422.4 632.0,420.0 632.7,417.6 633.3,415.2 634.0,412.8 634.6,410.4 635.3,408.0 635.9,405.6 636.6,403.2 637.2,400.8 637.9,398.4 638.5,396.1 639.2,393.7 639.8,391.3 640.5,388.9 641.2,386.5 641.8,384.1 642.5,381.7 643.2,379.4 643.9,377.0 644.5,374.6 645.2,372.2 645.9,369.8 646.6,367.4 647.3,365.1 647.9,362.7 648.6,360.3 649.3,357.9 650.0,355.5 650.7,353.2 651.4,350.8 652.1,348.4 652.8,346.0 653.5,343.6 654.2,341.3 654.9,338.9 655.6,336.5 656.3,334.1 657.0,331.7 657.7,329.4 658.4,327.0 659.1,324.6 659.8,322.2 660.6,319.8 661.3,317.4 662.0,315.1 662.7,312.7 663.4,310.3 664.1,307.9 664.9,305.5 665.6,303.1 666.3,300.7 667.0,298.3 667.7,295.9 668.5,293.6 669.2,291.2 669.9,288.8 670.6,286.4 671.4,284.0 672.1,281.6 672.8,279.2 673.6,276.8 674.3,274.4 675.0,272.0 675.8,269.6 676.5,267.2 677.2,264.8 678.0,262.3 678.7,259.9 679.4,257.5 680.2,255.1 680.9,252.7 681.6,250.3 682.4,247.9 683.1,245.4 683.9,243.0 684.6,240.6 685.3,238.2 686.1,235.7 686.8,233.3 687.6,230.9 688.3,228.4 689.0,226.0 689.8,223.5 690.5,221.1 691.3,218.7 692.0,216.2 692.7,213.8 693.5,211.3 694.2,208.8 695.0,206.4 695.7,203.9 696.4,201.5 697.2,199.0 697.9,196.5 698.7,194.1 699.4,191.6 700.1,189.1 700.9,186.6 701.6,184.1 702.4,181.7 703.1,179.2 703.9,176.7 704.7,174.2 705.5,171.8 706.3,169.3 707.1,166.9 707.9,164.5 708.8,162.0 709.7,159.7 710.6,157.3 711.6,154.9 712.5,152.6 713.6,150.3 714.6,148.0 715.7,145.8 716.8,143.5 718.0,141.4 719.3,139.2 720.5,137.1 721.9,135.0 723.3,133.0 724.7,131.0 726.2,129.0 727.8,127.1 729.4,125.2 731.1,123.4 732.8,121.6 734.7,119.9 736.6,118.3 738.5,116.7 740.5,115.1 742.6,113.7 744.7,112.3 746.8,110.9 749.0,109.7 751.3,108.5 753.5,107.4 755.8,106.4 758.2,105.5 760.5,104.6 762.9,103.9 765.3,103.2 767.7,102.7 770.1,102.2 772.5,101.9 774.9,101.7 777.4,101.6 779.8,101.6 782.2,101.7 784.6,101.9 787.0,102.2 789.4,102.7 791.7,103.2 794.1,103.9 796.4,104.6 798.7,105.4 801.0,106.3 803.3,107.3 805.5,108.4 807.7,109.6 809.9,110.8 812.1,112.1 814.2,113.5 816.3,115.0 818.4,116.5 820.4,118.0 822.4,119.7 824.3,121.3 826.2,123.1 828.1,124.8 829.9,126.6 831.7,128.5 833.4,130.4 835.1,132.3 836.8,134.2 838.4,136.2 840.0,138.1 841.6,140.1 843.2,142.1 844.7,144.1 846.2,146.2 847.7,148.2 849.2,150.3 850.7,152.3 852.1,154.4 853.5,156.5 854.9,158.5 856.3,160.6 857.7,162.7 859.0,164.9 860.3,167.0 861.7,169.1 863.0,171.2 864.3,173.4 865.5,175.5 866.8,177.7 868.1,179.8 869.3,182.0 870.5,184.2 871.8,186.3 873.0,188.5 874.2,190.7 875.4,192.9 876.6,195.1 877.8,197.3 879.0,199.5 880.2,201.7 881.3,203.9 882.5,206.1 883.7,208.3 884.8,210.5 886.0,212.7 887.2,214.9 888.3,217.1 889.5,219.3 890.7,221.5 891.9,223.7 893.0,225.9 894.2,228.1 895.4,230.3 896.6,232.4 897.8,234.6 899.0,236.8 900.2,239.0 901.4,241.2 902.6,243.3 903.8,245.5 905.1,247.7 906.3,249.8 907.6,252.0 908.8,254.1 910.1,256.3 911.4,258.4 912.6,260.5 913.9,262.7 915.2,264.8 916.5,267.0 917.7,269.1 919.0,271.2 920.3,273.4 921.6,275.5 922.9,277.6 924.2,279.7 925.5,281.9 926.8,284.0 928.1,286.1 929.3,288.3 930.6,290.4 931.9,292.5 933.2,294.7 934.5,296.8 935.7,299.0 937.0,301.1 938.3,303.2 939.5,305.4 940.8,307.5 942.0,309.7 943.3,311.9 944.5,314.0 945.7,316.2 947.0,318.4 948.2,320.5 949.4,322.7 950.6,324.9 951.8,327.1 953.0,329.3 954.1,331.5 955.3,333.7 956.4,335.9 957.6,338.1 958.7,340.3 959.9,342.6 961.0,344.8 962.1,347.0 963.2,349.3 964.3,351.5 965.4,353.7 966.5,356.0 967.6,358.2 968.6,360.5 969.7,362.8 970.8,365.0 971.8,367.3 972.9,369.6 973.9,371.8 975.0,374.1 976.0,376.4 977.0,378.7 978.1,381.0 979.1,383.3 980.1,385.5 981.1,387.8 982.1,390.1 983.1,392.4 984.1,394.7 985.1,397.0 986.1,399.3 987.1,401.6 988.1,404.0 989.1,406.3 990.1,408.6 991.0,410.9 992.0,413.2 993.0,415.5 994.0,417.8 994.9,420.2 995.9,422.5 996.9,424.8 997.8,427.1 998.8,429.4 999.8,431.8 1000.7,434.1 1001.7,436.4 1002.6,438.7 1003.6,441.1 1004.6,443.4 1005.5,445.7 1006.5,448.0 1007.4,450.4 1008.4,452.7 1009.3,455.0 1010.3,457.3 1011.3,459.7 1012.2,462.0 1013.2,464.3 1014.1,466.6 1015.1,469.0 1016.1,471.3 1017.0,473.6 1018.0,475.9 1019.0,478.2 1020.0,480.5 1020.9,482.9 1021.9,485.2 1022.9,487.5 1023.9,489.8 1024.9,492.1 1025.9,494.4 1026.8,496.7 1027.8,499.0 1028.8,501.3 1029.8,503.6 1030.9,505.9 1031.9,508.2 1032.9,510.5 1033.9,512.8 1034.9,515.0 1036.0,517.3 1037.0,519.6 1038.0,521.9 1039.1,524.2 1040.1,526.4 1041.2,528.7 1042.3,530.9 1043.3,533.2 1044.4,535.5 1045.5,537.7 1046.6,540.0 1047.7,542.2 1048.8,544.4 1049.9,546.7 1051.0,548.9 1052.1,551.1 1053.3,553.4 1054.4,555.6 1055.5,557.8 1056.7,560.0 1057.9,562.2 1059.0,564.4 1060.2,566.6 1061.4,568.8 1062.6,571.0 1063.8,573.1 1065.0,575.3 1066.2,577.5 1067.5,579.6 1068.7,581.8 1070.0,583.9 1071.2,586.1 1072.5,588.2 1073.8,590.3 1075.0,592.5 1076.3,594.6 1077.6,596.7 1079.0,598.8 1080.3,600.9 1081.6,603.0 1083.0,605.1 1084.3,607.2 1085.7,609.3 1087.0,611.4 1088.4,613.4 1089.8,615.5 1091.2,617.6 1092.6,619.6 1094.0,621.7 1095.4,623.7 1096.8,625.8 1098.3,627.8 1099.7,629.8 1101.2,631.8 1102.6,633.8 1104.1,635.9 1105.6,637.9 1107.1,639.9 1108.6,641.9 1110.1,643.8 1111.6,645.8 1113.1,647.8 1114.6,649.8 1116.1,651.7 1117.7,653.7 1119.2,655.7 1120.8,657.6 1122.3,659.6 1123.9,661.5 1125.5,663.4 1127.0,665.3 1128.6,667.3 1130.2,669.2 1131.8,671.1 1133.4,673.0 1135.1,674.9 1136.7,676.8 1138.3,678.7 1140.0,680.6 1141.6,682.4 1143.3,684.3 1144.9,686.2 1146.6,688.0 1148.3,689.9 1149.9,691.7 1151.6,693.6 1153.3,695.4 1155.0,697.3 1156.7,699.1 1158.4,700.9 1160.2,702.7 1161.9,704.5 1163.6,706.3 1165.3,708.1 1167.1,709.9 1168.8,711.7 1170.6,713.5 1172.4,715.3 1174.1,717.1 1175.9,718.8 1177.7,720.6 1179.5,722.3 1181.3,724.1 1183.0,725.8 1184.9,727.6 1186.7,729.3 1188.5,731.0 1190.3,732.8 1192.1,734.5 1193.9,736.2 1195.8,737.9 1197.6,739.6 1199.5,741.3 1201.3,743.0 1203.2,744.7 1205.0,746.3 1206.9,748.0 1208.8,749.7 1210.6,751.3 1212.5,753.0 1214.4,754.7 1216.3,756.3 1218.2,757.9 1220.1,759.6 1222.0,761.2 1223.9,762.8 1225.8,764.4 1227.7,766.1 1229.7,767.7 1231.6,769.3 1233.5,770.9 1235.5,772.5 1237.4,774.0 1239.3,775.6 1241.3,777.2 1243.2,778.8 1245.2,780.3 1247.2,781.9 1249.1,783.4 1251.1,785.0 1253.1,786.5 1255.1,788.1 1257.0,789.6 1259.0,791.1 1261.0,792.6 1263.0,794.2 1265.0,795.7 1267.0,797.2 1269.0,798.7 1271.0,800.2 1273.0,801.6 1275.0,803.1 1277.0,804.6 1279.1,806.1 1281.1,807.5 1283.1,809.0 1285.1,810.5 1287.2,811.9 1289.2,813.3 1291.2,814.8 1293.3,816.2 1295.3,817.6 1297.4,819.1 1299.4,820.5 1301.5,821.9 1303.5,823.3 1305.6,824.7 1307.6,826.1 1309.7,827.5 1311.8,828.9 1313.8,830.2 1315.9,831.6 1318.0,833.0 1320.0,834.3 1322.1,835.7 1324.2,837.1 1326.3,838.4"/>
<path stroke="#d4d654" d="M195.7,912.5 198.3,912.8 200.8,913.0 203.4,913.2 206.0,913.4 208.6,913.6 211.2,913.7 213.7,913.8 216.3,913.9 218.8,914.0 221.4,914.0 223.9,914.0 226.4,914.0 229.0,913.9 231.5,913.9 234.0,913.8 236.5,913.7 239.0,913.5 241.5,913.4 244.0,913.2 246.5,913.0 249.0,912.8 251.5,912.5 254.0,912.3 256.4,912.0 258.9,911.7 261.4,911.4 263.8,911.0 266.3,910.7 268.7,910.3 271.2,909.9 273.6,909.5 276.1,909.1 278.5,908.7 281.0,908.3 283.4,907.8 285.8,907.3 288.3,906.8 290.7,906.3 293.1,905.8 295.6,905.3 298.0,904.8 300.4,904.3 302.8,903.7 305.2,903.1 307.6,902.6 310.1,902.0 312.5,901.4 314.9,900.8 317.3,900.2 319.7,899.6 322.1,899.0 324.5,898.4 326.9,897.7 329.4,897.1 331.8,896.5 334.2,895.8 336.6,895.2 339.0,894.6 341.4,893.9 343.8,893.3 346.2,892.6 348.6,892.0 351.0,891.3 353.5,890.7 355.9,890.0 358.3,889.4 360.7,888.7 363.1,888.1 365.5,887.4 368.0,886.8 370.4,886.1 372.8,885.5 375.2,884.9 377.7,884.2 380.1,883.6 382.5,883.0 385.0,882.4 387.4,881.7 389.8,881.1 392.3,880.5 394.7,879.9 397.2,879.3 399.6,878.6 402.0,878.0 404.5,877.4 406.9,876.7 409.3,876.1 411.8,875.5 414.2,874.8 416.6,874.2 419.0,873.5 421.5,872.8 423.9,872.2 426.3,871.5 428.7,870.8 431.1,870.1 433.5,869.4 435.9,868.7 438.3,867.9 440.7,867.2 443.1,866.4 445.5,865.7 447.9,864.9 450.3,864.1 452.6,863.3 455.0,862.5 457.3,861.6 459.7,860.8 462.0,859.9 464.4,859.0 466.7,858.1 469.0,857.2 471.3,856.3 473.6,855.3 475.9,854.3 478.2,853.3 480.5,852.3 482.8,851.3 485.0,850.2 487.3,849.1 489.5,848.0 491.8,846.8 494.0,845.7 496.2,844.5 498.4,843.3 500.6,842.1 502.8,840.8 504.9,839.5 507.1,838.3 509.2,836.9 511.4,835.6 513.5,834.2 515.6,832.9 517.7,831.5 519.8,830.1 521.8,828.6 523.9,827.2 525.9,825.7 527.9,824.2 529.9,822.7 531.9,821.2 533.9,819.7 535.8,818.1 537.8,816.6 539.7,815.0 541.6,813.4 543.5,811.8 545.3,810.2 547.2,808.5 549.0,806.9 550.8,805.2 552.7,803.5 554.4,801.8 556.2,800.1 558.0,798.4 559.7,796.7 561.4,794.9 563.1,793.2 564.8,791.4 566.5,789.6 568.2,787.8 569.8,786.0 571.5,784.1 573.1,782.3 574.7,780.5 576.3,778.6 577.9,776.7 579.4,774.8 581.0,772.9 582.5,771.0 584.1,769.1 585.6,767.2 587.1,765.2 588.5,763.3 590.0,761.3 591.5,759.3 592.9,757.3 594.3,755.3 595.8,753.3 597.2,751.3 598.6,749.3 599.9,747.2 601.3,745.2 602.7,743.1 604.0,741.0 605.3,739.0 606.6,736.9 607.9,734.8 609.2,732.7 610.5,730.5 611.8,728.4 613.1,726.3 614.3,724.1 615.5,722.0 616.8,719.8 618.0,717.7 619.2,715.5 620.4,713.3 621.6,711.1 622.7,708.9 623.9,706.7 625.1,704.5 626.2,702.3 627.3,700.0 628.4,697.8 629.6,695.6 630.7,693.3 631.8,691.1 632.8,688.8 633.9,686.5 635.0,684.3 636.0,682.0 637.1,679.7 638.1,677.4 639.2,675.1 640.2,672.8 641.2,670.5 642.2,668.2 643.2,665.9 644.2,663.6 645.1,661.2 646.1,658.9 647.1,656.6 648.0,654.2 649.0,651.9 649.9,649.5 650.9,647.2 651.8,644.8 652.7,642.5 653.6,640.1 654.5,637.7 655.4,635.4 656.3,633.0 657.2,630.6 658.1,628.2 658.9,625.8 659.8,623.5 660.7,621.1 661.5,618.7 662.4,616.3 663.2,613.9 664.0,611.5 664.9,609.1 665.7,606.7 666.5,604.3 667.3,601.9 668.1,599.5 668.9,597.1 669.7,594.7 670.5,592.3 671.3,589.9 672.1,587.5 672.9,585.1 673.7,582.7 674.4,580.3 675.2,577.8 676.0,575.4 676.7,573.0 677.5,570.6 678.2,568.2 679.0,565.8 679.7,563.4 680.5,561.0 681.2,558.6 681.9,556.2 682.7,553.8 683.4,551.3 684.1,548.9 684.8,546.5 685.5,544.1 686.3,541.7 687.0,539.3 687.7,536.9 688.4,534.5 689.1,532.1 689.8,529.7 690.5,527.3 691.2,524.8 691.9,522.4 692.5,520.0 693.2,517.6 693.9,515.2 694.6,512.8 695.3,510.4 695.9,508.0 696.6,505.6 697.3,503.2 698.0,500.7 698.6,498.3 699.3,495.9 700.0,493.5 700.6,491.1 701.3,488.7 701.9,486.3 702.6,483.9 703.2,481.5 703.9,479.1 704.6,476.7 705.2,474.2 705.9,471.8 706.5,469.4 707.2,467.0 707.8,464.6 708.5,462.2 709.1,459.8 709.7,457.4 710.4,455.0 711.0,452.6 711.7,450.2 712.3,447.8 713.0,445.4 713.6,443.0 714.2,440.6 714.9,438.2 715.5,435.8 716.2,433.4 716.8,431.0 717.4,428.6 718.1,426.2 718.7,423.8 719.4,421.4 720.0,418.9 720.7,416.5 721.3,414.2 721.9,411.8 722.6,409.4 723.2,407.0 723.9,404.6 724.5,402.2 725.2,399.8 725.8,397.4 726.5,395.0 727.1,392.6 727.8,390.2 728.4,387.8 729.1,385.4 729.7,383.0 730.4,380.6 731.0,378.2 731.7,375.8 732.3,373.4 733.0,371.0 733.7,368.7 734.3,366.3 735.0,363.9 735.7,361.5 736.3,359.1 737.0,356.7 737.7,354.3 738.4,351.9 739.1,349.6 739.7,347.2 740.4,344.8 741.1,342.4 741.8,340.0 742.5,337.6 743.2,335.3 743.9,332.9 744.6,330.5 745.3,328.1 746.0,325.8 746.7,323.4 747.4,321.0 748.1,318.6 748.8,316.3 749.6,313.9 750.3,311.5 751.0,309.1 751.8,306.8 752.5,304.4 753.2,302.0 754.0,299.7 754.7,297.3 755.5,294.9 756.2,292.6 757.0,290.2 757.8,287.8 758.5,285.5 759.3,283.1 760.1,280.7 760.8,278.4 761.6,276.0 762.4,273.7 763.2,271.3 764.0,268.9 764.8,266.6 765.6,264.2 766.4,261.9 767.2,259.5 768.0,257.1 768.8,254.8 769.7,252.4 770.5,250.1 771.3,247.7 772.2,245.3 773.0,243.0 773.8,240.6 774.7,238.2 775.5,235.9 776.4,233.5 777.3,231.2 778.1,228.8 779.0,226.4 779.9,224.1 780.7,221.7 781.6,219.3 782.5,216.9 783.4,214.6 784.3,212.2 785.2,209.8 786.1,207.5 787.0,205.1 787.9,202.7 788.9,200.3 789.8,198.0 790.7,195.6 791.6,193.2 792.6,190.8 793.5,188.4 794.5,186.0 795.4,183.6 796.4,181.3 797.3,178.9 798.3,176.5 799.3,174.1 800.3,171.7 801.2,169.3 802.2,166.9 803.2,164.5 804.3,162.1 805.3,159.8 806.4,157.4 807.4,155.1 808.5,152.7 809.7,150.4 810.8,148.1 812.0,145.9 813.2,143.6 814.5,141.4 815.8,139.2 817.1,137.1 818.4,135.0 819.8,132.9 821.3,130.8 822.8,128.8 824.3,126.9 825.9,124.9 827.6,123.1 829.3,121.2 831.0,119.5 832.8,117.7 834.7,116.1 836.6,114.5 838.6,113.0 840.6,111.5 842.7,110.1 844.8,108.9 847.0,107.7 849.2,106.6 851.5,105.7 853.7,104.8 856.1,104.1 858.4,103.5 860.8,103.0 863.2,102.6 865.7,102.4 868.1,102.3 870.6,102.3 873.0,102.4 875.5,102.6 877.9,102.9 880.4,103.3 882.8,103.8 885.2,104.5 887.5,105.2 889.9,106.0 892.2,106.9 894.4,107.9 896.7,109.0 898.8,110.2 900.9,111.5 903.0,112.8 905.0,114.3 906.9,115.8 908.9,117.4 910.7,119.0 912.6,120.7 914.4,122.5 916.2,124.3 917.9,126.2 919.6,128.1 921.3,130.0 922.9,132.0 924.6,134.0 926.2,136.1 927.8,138.1 929.4,140.2 931.0,142.4 932.5,144.5 934.1,146.6 935.6,148.7 937.2,150.9 938.7,153.0 940.3,155.1 941.8,157.3 943.4,159.4 944.9,161.4 946.5,163.5 948.1,165.6 949.7,167.6 951.3,169.6 952.9,171.6 954.5,173.6 956.1,175.6 957.7,177.6 959.3,179.6 960.9,181.6 962.5,183.5 964.1,185.5 965.7,187.4 967.3,189.3 968.9,191.3 970.5,193.2 972.1,195.1 973.7,197.0 975.3,198.9 976.9,200.8 978.5,202.7 980.1,204.6 981.7,206.5 983.2,208.4 984.8,210.3 986.4,212.2 987.9,214.1 989.5,216.0 991.0,217.9 992.6,219.8 994.1,221.8 995.6,223.7 997.1,225.6 998.6,227.5 1000.1,229.5 1001.6,231.4 1003.0,233.4 1004.5,235.3 1005.9,237.3 1007.3,239.3 1008.7,241.2 1010.1,243.2 1011.5,245.3 1012.9,247.3 1014.2,249.3 1015.6,251.3 1016.9,253.4 1018.2,255.5 1019.5,257.5 1020.8,259.6 1022.1,261.7 1023.4,263.8 1024.6,265.9 1025.9,268.0 1027.1,270.1 1028.3,272.3 1029.5,274.4 1030.7,276.6 1031.9,278.7 1033.1,280.9 1034.3,283.1 1035.4,285.2 1036.6,287.4 1037.7,289.6 1038.8,291.8 1039.9,294.0 1041.0,296.3 1042.1,298.5 1043.2,300.7 1044.3,302.9 1045.4,305.2 1046.4,307.4 1047.5,309.7 1048.5,312.0 1049.6,314.2 1050.6,316.5 1051.6,318.8 1052.7,321.1 1053.7,323.4 1054.7,325.6 1055.7,327.9 1056.7,330.2 1057.7,332.6 1058.6,334.9 1059.6,337.2 1060.6,339.5 1061.5,341.8 1062.5,344.2 1063.5,346.5 1064.4,348.8 1065.4,351.2 1066.3,353.5 1067.2,355.8 1068.2,358.2 1069.1,360.5 1070.0,362.9 1070.9,365.3 1071.9,367.6 1072.8,370.0 1073.7,372.3 1074.6,374.7 1075.5,377.1 1076.4,379.4 1077.3,381.8 1078.2,384.2 1079.1,386.5 1080.0,388.9 1080.9,391.3 1081.8,393.6 1082.7,396.0 1083.6,398.4 1084.5,400.8 1085.4,403.1 1086.3,405.5 1087.2,407.9 1088.1,410.2 1089.0,412.6 1089.9,415.0 1090.8,417.3 1091.7,419.7 1092.6,422.1 1093.5,424.4 1094.4,426.8 1095.3,429.2 1096.2,431.5 1097.1,433.9 1098.0,436.2 1098.9,438.6 1099.9,440.9 1100.8,443.3 1101.7,445.6 1102.6,448.0 1103.6,450.3 1104.5,452.6 1105.4,455.0 1106.4,457.3 1107.3,459.6 1108.3,462.0 1109.3,464.3 1110.2,466.6 1111.2,468.9 1112.2,471.2 1113.1,473.5 1114.1,475.8 1115.1,478.1 1116.1,480.4 1117.1,482.7 1118.1,485.0 1119.1,487.3 1120.1,489.5 1121.1,491.8 1122.1,494.1 1123.1,496.4 1124.2,498.6 1125.2,500.9 1126.3,503.1 1127.3,505.4 1128.3,507.6 1129.4,509.9 1130.5,512.1 1131.5,514.3 1132.6,516.6 1133.7,518.8 1134.8,521.0 1135.9,523.2 1137.0,525.5 1138.1,527.7 1139.2,529.9 1140.3,532.1 1141.4,534.3 1142.5,536.5 1143.7,538.6 1144.8,540.8 1146.0,543.0 1147.1,545.2 1148.3,547.3 1149.4,549.5 1150.6,551.7 1151.8,553.8 1153.0,556.0 1154.2,558.1 1155.4,560.3 1156.6,562.4 1157.8,564.5 1159.0,566.7 1160.2,568.8 1161.5,570.9 1162.7,573.0 1164.0,575.1 1165.2,577.2 1166.5,579.3 1167.7,581.4 1169.0,583.5 1170.3,585.6 1171.6,587.6 1172.9,589.7 1174.2,591.8 1175.5,593.8 1176.9,595.9 1178.2,597.9 1179.5,600.0 1180.9,602.0 1182.2,604.1 1183.6,606.1 1185.0,608.1 1186.4,610.1 1187.8,612.1 1189.2,614.1 1190.6,616.1 1192.0,618.1 1193.4,620.1 1194.8,622.1 1196.3,624.1 1197.7,626.1 1199.2,628.0 1200.7,630.0 1202.1,631.9 1203.6,633.9 1205.1,635.8 1206.6,637.8 1208.1,639.7 1209.7,641.6 1211.2,643.5 1212.8,645.4 1214.3,647.4 1215.9,649.3 1217.4,651.1 1219.0,653.0 1220.6,654.9 1222.2,656.8 1223.8,658.7 1225.4,660.5 1227.1,662.4 1228.7,664.2 1230.3,666.1 1232.0,667.9 1233.7,669.8 1235.3,671.6 1237.0,673.4 1238.7,675.2 1240.4,677.1 1242.1,678.9 1243.8,680.7 1245.5,682.5 1247.2,684.3 1248.9,686.0 1250.7,687.8 1252.4,689.6 1254.1,691.4 1255.9,693.2 1257.6,694.9 1259.4,696.7 1261.2,698.4 1263.0,700.2 1264.7,701.9 1266.5,703.7 1268.3,705.4 1270.1,707.2 1271.9,708.9 1273.7,710.6 1275.5,712.3 1277.3,714.0 1279.1,715.8 1281.0,717.5 1282.8,719.2 1284.6,720.9 1286.4,722.6 1288.3,724.3 1290.1,726.0 1292.0,727.7 1293.8,729.3 1295.7,731.0 1297.5,732.7 1299.4,734.4 1301.2,736.0 1303.1,737.7 1304.9,739.4 1306.8,741.0 1308.7,742.7 1310.5,744.4 1312.4,746.0 1314.3,747.7 1316.1,749.3 1318.0,751.0 1319.9,752.6 1321.7,754.2 1323.6,755.9 1325.5,757.5"/>
<path stroke="#e8821f" d="M196.1,912.6 198.6,912.4 201.0,912.3 203.5,912.1 206.0,911.9 208.4,911.7 210.9,911.5 213.4,911.3 215.9,911.1 218.3,910.9 220.8,910.6 223.3,910.4 225.8,910.1 228.3,909.8 230.7,909.5 233.2,909.2 235.7,908.9 238.2,908.6 240.7,908.3 243.2,907.9 245.7,907.6 248.1,907.2 250.6,906.8 253.1,906.4 255.6,906.0 258.1,905.6 260.6,905.2 263.0,904.8 265.5,904.3 268.0,903.9 270.5,903.4 272.9,902.9 275.4,902.4 277.9,901.9 280.4,901.4 282.8,900.8 285.3,900.3 287.7,899.7 290.2,899.2 292.7,898.6 295.1,898.0 297.6,897.4 300.0,896.8 302.5,896.1 304.9,895.5 307.3,894.8 309.8,894.1 312.2,893.5 314.6,892.8 317.0,892.0 319.4,891.3 321.8,890.6 324.2,889.8 326.6,889.1 329.0,888.3 331.4,887.5 333.8,886.7 336.2,885.9 338.6,885.0 340.9,884.2 343.3,883.3 345.6,882.5 348.0,881.6 350.3,880.7 352.6,879.8 355.0,878.8 357.3,877.9 359.6,876.9 361.9,876.0 364.2,875.0 366.5,874.0 368.7,873.0 371.0,871.9 373.3,870.9 375.5,869.8 377.8,868.7 380.0,867.7 382.3,866.6 384.5,865.5 386.7,864.3 388.9,863.2 391.1,862.1 393.3,860.9 395.5,859.7 397.7,858.6 399.9,857.4 402.0,856.2 404.2,855.0 406.4,853.8 408.6,852.6 410.7,851.4 412.9,850.2 415.0,849.0 417.2,847.8 419.3,846.6 421.5,845.4 423.6,844.1 425.8,842.9 427.9,841.7 430.1,840.5 432.2,839.2 434.4,838.0 436.5,836.8 438.7,835.6 440.8,834.4 442.9,833.2 445.1,832.0 447.2,830.8 449.4,829.6 451.5,828.4 453.7,827.3 455.9,826.1 458.0,824.9 460.2,823.8 462.4,822.7 464.5,821.5 466.7,820.4 468.9,819.3 471.1,818.2 473.3,817.1 475.5,816.1 477.7,815.0 479.9,814.0 482.1,812.9 484.3,811.9 486.5,810.8 488.8,809.8 491.0,808.8 493.2,807.8 495.4,806.8 497.7,805.7 499.9,804.7 502.2,803.7 504.4,802.7 506.7,801.6 508.9,800.6 511.2,799.5 513.4,798.5 515.7,797.5 517.9,796.4 520.2,795.3 522.4,794.3 524.7,793.2 526.9,792.1 529.1,791.0 531.4,789.9 533.6,788.8 535.9,787.7 538.1,786.6 540.3,785.5 542.5,784.3 544.8,783.2 547.0,782.0 549.2,780.9 551.4,779.7 553.6,778.5 555.8,777.3 557.9,776.1 560.1,774.9 562.3,773.6 564.4,772.4 566.6,771.1 568.7,769.9 570.8,768.6 572.9,767.3 575.0,766.0 577.1,764.6 579.2,763.3 581.2,761.9 583.3,760.6 585.3,759.2 587.4,757.8 589.4,756.4 591.4,754.9 593.3,753.5 595.3,752.0 597.3,750.5 599.2,749.0 601.1,747.5 603.0,745.9 604.9,744.4 606.8,742.8 608.6,741.2 610.4,739.6 612.2,737.9 614.0,736.3 615.8,734.6 617.5,732.9 619.3,731.2 621.0,729.4 622.7,727.7 624.3,725.9 626.0,724.1 627.6,722.3 629.2,720.4 630.8,718.6 632.4,716.7 633.9,714.8 635.5,712.9 637.0,711.0 638.5,709.0 640.0,707.0 641.5,705.1 642.9,703.1 644.4,701.1 645.8,699.0 647.2,697.0 648.6,694.9 650.0,692.9 651.3,690.8 652.7,688.7 654.0,686.6 655.3,684.5 656.6,682.3 657.9,680.2 659.2,678.1 660.4,675.9 661.7,673.7 662.9,671.5 664.2,669.3 665.4,667.1 666.6,664.9 667.8,662.7 668.9,660.5 670.1,658.2 671.3,656.0 672.4,653.7 673.6,651.4 674.7,649.2 675.8,646.9 676.9,644.6 678.0,642.3 679.1,640.0 680.2,637.7 681.2,635.4 682.3,633.1 683.4,630.8 684.4,628.5 685.4,626.2 686.5,623.9 687.5,621.5 688.5,619.2 689.5,616.9 690.5,614.5 691.5,612.2 692.5,609.9 693.5,607.5 694.5,605.2 695.5,602.9 696.5,600.5 697.4,598.2 698.4,595.9 699.3,593.5 700.3,591.2 701.2,588.8 702.2,586.5 703.1,584.1 704.0,581.8 704.9,579.4 705.9,577.1 706.8,574.7 707.7,572.4 708.6,570.0 709.5,567.7 710.4,565.3 711.3,563.0 712.2,560.6 713.0,558.2 713.9,555.9 714.8,553.5 715.6,551.2 716.5,548.8 717.4,546.4 718.2,544.1 719.1,541.7 719.9,539.4 720.8,537.0 721.6,534.6 722.4,532.3 723.3,529.9 724.1,527.5 724.9,525.2 725.8,522.8 726.6,520.4 727.4,518.0 728.2,515.7 729.0,513.3 729.8,510.9 730.6,508.6 731.4,506.2 732.2,503.8 733.0,501.5 733.8,499.1 734.6,496.7 735.4,494.3 736.2,492.0 736.9,489.6 737.7,487.2 738.5,484.9 739.3,482.5 740.1,480.1 740.8,477.7 741.6,475.4 742.4,473.0 743.1,470.6 743.9,468.2 744.7,465.9 745.4,463.5 746.2,461.1 746.9,458.8 747.7,456.4 748.5,454.0 749.2,451.6 750.0,449.3 750.7,446.9 751.5,444.5 752.2,442.2 753.0,439.8 753.7,437.4 754.5,435.0 755.2,432.7 756.0,430.3 756.7,427.9 757.4,425.6 758.2,423.2 758.9,420.8 759.7,418.5 760.4,416.1 761.2,413.7 761.9,411.4 762.7,409.0 763.4,406.7 764.1,404.3 764.9,401.9 765.6,399.6 766.4,397.2 767.1,394.9 767.9,392.5 768.6,390.1 769.4,387.8 770.1,385.4 770.9,383.1 771.6,380.7 772.4,378.4 773.1,376.0 773.9,373.7 774.6,371.3 775.4,369.0 776.1,366.6 776.9,364.3 777.7,361.9 778.4,359.6 779.2,357.3 780.0,354.9 780.7,352.6 781.5,350.2 782.3,347.9 783.0,345.6 783.8,343.2 784.6,340.9 785.4,338.6 786.2,336.2 786.9,333.9 787.7,331.6 788.5,329.3 789.3,326.9 790.1,324.6 790.9,322.3 791.7,320.0 792.5,317.6 793.3,315.3 794.1,313.0 794.9,310.6 795.7,308.3 796.5,306.0 797.3,303.7 798.1,301.3 798.9,299.0 799.7,296.7 800.5,294.3 801.3,292.0 802.1,289.7 802.9,287.3 803.8,285.0 804.6,282.7 805.4,280.3 806.2,278.0 807.0,275.6 807.9,273.3 808.7,270.9 809.5,268.6 810.3,266.2 811.2,263.9 812.0,261.5 812.8,259.2 813.7,256.8 814.5,254.4 815.3,252.1 816.2,249.7 817.0,247.3 817.8,244.9 818.7,242.6 819.5,240.2 820.3,237.8 821.2,235.4 822.0,233.0 822.8,230.6 823.7,228.2 824.5,225.8 825.4,223.4 826.2,220.9 827.1,218.5 827.9,216.1 828.7,213.7 829.6,211.2 830.4,208.8 831.3,206.4 832.2,203.9 833.0,201.5 833.9,199.1 834.8,196.6 835.7,194.2 836.6,191.8 837.6,189.4 838.5,186.9 839.5,184.5 840.5,182.1 841.5,179.7 842.5,177.4 843.5,175.0 844.6,172.6 845.7,170.3 846.8,167.9 848.0,165.6 849.1,163.3 850.3,161.0 851.5,158.7 852.8,156.4 854.1,154.2 855.4,152.0 856.8,149.8 858.2,147.6 859.6,145.4 861.1,143.2 862.6,141.1 864.1,139.0 865.7,137.0 867.3,134.9 868.9,133.0 870.6,131.0 872.3,129.1 874.1,127.3 875.9,125.5 877.7,123.7 879.6,122.0 881.5,120.4 883.4,118.8 885.4,117.3 887.4,115.9 889.5,114.5 891.5,113.2 893.6,112.0 895.8,110.9 898.0,109.8 900.2,108.8 902.4,107.9 904.7,107.1 907.0,106.3 909.3,105.7 911.6,105.1 914.0,104.5 916.4,104.1 918.7,103.7 921.1,103.4 923.6,103.1 926.0,103.0 928.4,102.9 930.8,102.8 933.3,102.9 935.7,103.0 938.2,103.2 940.6,103.4 943.0,103.7 945.5,104.1 947.9,104.5 950.3,105.1 952.7,105.6 955.1,106.3 957.5,107.0 959.9,107.7 962.2,108.6 964.5,109.5 966.8,110.4 969.1,111.4 971.3,112.5 973.6,113.6 975.8,114.8 977.9,116.1 980.0,117.4 982.1,118.8 984.2,120.2 986.2,121.7 988.2,123.2 990.1,124.8 992.0,126.4 993.8,128.1 995.6,129.9 997.4,131.7 999.1,133.5 1000.8,135.4 1002.4,137.4 1004.1,139.3 1005.6,141.3 1007.2,143.4 1008.7,145.5 1010.2,147.6 1011.6,149.7 1013.0,151.9 1014.4,154.1 1015.8,156.3 1017.1,158.6 1018.5,160.8 1019.8,163.1 1021.0,165.4 1022.3,167.7 1023.5,170.0 1024.7,172.4 1025.9,174.7 1027.1,177.0 1028.3,179.4 1029.5,181.7 1030.6,184.1 1031.7,186.4 1032.9,188.7 1034.0,191.1 1035.1,193.4 1036.2,195.7 1037.3,198.0 1038.4,200.3 1039.4,202.6 1040.5,204.9 1041.6,207.2 1042.6,209.5 1043.7,211.8 1044.7,214.1 1045.8,216.4 1046.8,218.7 1047.8,221.0 1048.9,223.3 1049.9,225.6 1050.9,227.9 1051.9,230.2 1052.9,232.4 1054.0,234.7 1055.0,237.0 1056.0,239.3 1057.0,241.6 1058.0,243.9 1059.0,246.2 1060.0,248.5 1061.0,250.7 1062.0,253.0 1063.0,255.3 1064.0,257.6 1065.0,259.9 1065.9,262.2 1066.9,264.5 1067.9,266.8 1068.9,269.0 1069.9,271.3 1070.9,273.6 1071.9,275.9 1072.9,278.2 1073.9,280.5 1074.8,282.8 1075.8,285.0 1076.8,287.3 1077.8,289.6 1078.8,291.9 1079.8,294.2 1080.8,296.4 1081.8,298.7 1082.7,301.0 1083.7,303.3 1084.7,305.6 1085.7,307.8 1086.7,310.1 1087.7,312.4 1088.7,314.7 1089.7,316.9 1090.7,319.2 1091.7,321.5 1092.7,323.8 1093.7,326.0 1094.8,328.3 1095.8,330.6 1096.8,332.8 1097.8,335.1 1098.8,337.4 1099.9,339.6 1100.9,341.9 1101.9,344.2 1102.9,346.4 1104.0,348.7 1105.0,350.9 1106.1,353.2 1107.1,355.4 1108.2,357.7 1109.2,359.9 1110.3,362.2 1111.4,364.4 1112.4,366.7 1113.5,368.9 1114.6,371.2 1115.7,373.4 1116.8,375.7 1117.9,377.9 1119.0,380.1 1120.1,382.4 1121.2,384.6 1122.3,386.8 1123.4,389.1 1124.5,391.3 1125.7,393.5 1126.8,395.8 1127.9,398.0 1129.1,400.2 1130.2,402.4 1131.4,404.6 1132.5,406.8 1133.7,409.1 1134.8,411.3 1136.0,413.5 1137.2,415.7 1138.3,417.9 1139.5,420.1 1140.7,422.3 1141.9,424.5 1143.1,426.7 1144.3,428.9 1145.5,431.1 1146.7,433.3 1147.9,435.5 1149.1,437.7 1150.3,439.8 1151.6,442.0 1152.8,444.2 1154.0,446.4 1155.3,448.6 1156.5,450.7 1157.8,452.9 1159.0,455.1 1160.3,457.3 1161.5,459.4 1162.8,461.6 1164.0,463.8 1165.3,465.9 1166.6,468.1 1167.9,470.2 1169.1,472.4 1170.4,474.5 1171.7,476.7 1173.0,478.8 1174.3,481.0 1175.6,483.1 1176.9,485.2 1178.2,487.4 1179.5,489.5 1180.8,491.6 1182.2,493.8 1183.5,495.9 1184.8,498.0 1186.2,500.1 1187.5,502.3 1188.8,504.4 1190.2,506.5 1191.5,508.6 1192.9,510.7 1194.2,512.8 1195.6,514.9 1196.9,517.0 1198.3,519.1 1199.7,521.2 1201.1,523.3 1202.4,525.4 1203.8,527.5 1205.2,529.6 1206.6,531.6 1208.0,533.7 1209.4,535.8 1210.8,537.9 1212.2,539.9 1213.6,542.0 1215.0,544.1 1216.4,546.1 1217.8,548.2 1219.2,550.2 1220.7,552.3 1222.1,554.3 1223.5,556.4 1225.0,558.4 1226.4,560.4 1227.9,562.4 1229.4,564.4 1230.8,566.4 1232.3,568.4 1233.8,570.4 1235.3,572.4 1236.8,574.4 1238.4,576.3 1239.9,578.3 1241.5,580.2 1243.0,582.1 1244.6,584.1 1246.2,586.0 1247.8,587.9 1249.4,589.7 1251.0,591.6 1252.6,593.4 1254.3,595.3 1255.9,597.1 1257.6,598.9 1259.3,600.7 1261.0,602.5 1262.8,604.3 1264.5,606.0 1266.3,607.8 1268.0,609.5 1269.8,611.2 1271.7,612.9 1273.5,614.5 1275.3,616.2 1277.2,617.8 1279.1,619.4 1281.0,621.0 1283.0,622.6 1284.9,624.1 1286.9,625.6 1288.9,627.1 1290.9,628.6 1292.9,630.1 1295.0,631.5 1297.1,633.0 1299.2,634.3 1301.3,635.7 1303.5,637.1 1305.7,638.4 1307.9,639.7 1310.1,641.0 1312.4,642.2 1314.7,643.4 1317.0,644.6 1319.4,645.8 1321.7,646.9 1324.1,648.1 1326.6,649.1"/>
<path stroke="#d04c55" d="M193.9,903.8 196.7,903.8 199.4,903.7 202.2,903.7 204.9,903.6 207.6,903.5 210.3,903.3 213.0,903.2 215.7,903.0 218.3,902.8 221.0,902.5 223.6,902.3 226.2,902.0 228.9,901.7 231.5,901.4 234.1,901.1 236.6,900.8 239.2,900.4 241.8,900.0 244.3,899.6 246.9,899.2 249.4,898.8 251.9,898.3 254.4,897.8 256.9,897.3 259.4,896.8 261.9,896.3 264.4,895.8 266.8,895.2 269.3,894.6 271.7,894.0 274.2,893.4 276.6,892.8 279.0,892.1 281.4,891.5 283.8,890.8 286.2,890.1 288.6,889.4 291.0,888.7 293.4,888.0 295.7,887.2 298.1,886.5 300.5,885.7 302.8,884.9 305.1,884.1 307.5,883.3 309.8,882.5 312.1,881.6 314.4,880.8 316.7,879.9 319.0,879.0 321.3,878.1 323.6,877.2 325.9,876.3 328.1,875.4 330.4,874.5 332.7,873.5 334.9,872.6 337.2,871.6 339.4,870.6 341.7,869.6 343.9,868.7 346.2,867.7 348.4,866.6 350.6,865.6 352.8,864.6 355.1,863.5 357.3,862.5 359.5,861.4 361.7,860.4 363.9,859.3 366.1,858.2 368.3,857.1 370.5,856.0 372.7,854.9 374.9,853.8 377.1,852.7 379.3,851.6 381.5,850.5 383.6,849.4 385.8,848.2 388.0,847.1 390.2,845.9 392.4,844.8 394.5,843.6 396.7,842.5 398.9,841.3 401.1,840.1 403.2,839.0 405.4,837.8 407.6,836.6 409.8,835.4 411.9,834.2 414.1,833.0 416.3,831.8 418.4,830.7 420.6,829.5 422.8,828.3 425.0,827.1 427.1,825.9 429.3,824.7 431.5,823.5 433.7,822.3 435.9,821.1 438.0,819.9 440.2,818.6 442.4,817.4 444.6,816.2 446.8,815.0 449.0,813.8 451.2,812.6 453.4,811.4 455.6,810.2 457.8,809.0 460.0,807.8 462.2,806.7 464.4,805.5 466.6,804.3 468.8,803.1 471.1,801.9 473.3,800.7 475.5,799.6 477.8,798.4 480.0,797.2 482.2,796.1 484.5,794.9 486.7,793.7 489.0,792.6 491.3,791.4 493.5,790.3 495.8,789.2 498.1,788.0 500.4,786.9 502.7,785.8 505.0,784.7 507.2,783.5 509.5,782.4 511.8,781.3 514.1,780.2 516.4,779.1 518.8,778.0 521.1,776.9 523.4,775.8 525.7,774.7 528.0,773.6 530.3,772.5 532.6,771.4 534.9,770.3 537.2,769.2 539.6,768.1 541.9,767.0 544.2,765.9 546.5,764.8 548.8,763.7 551.1,762.6 553.4,761.5 555.7,760.4 558.0,759.2 560.3,758.1 562.6,757.0 564.9,755.9 567.2,754.8 569.5,753.6 571.7,752.5 574.0,751.4 576.3,750.2 578.6,749.1 580.8,747.9 583.1,746.8 585.3,745.6 587.6,744.4 589.8,743.3 592.0,742.1 594.3,740.9 596.5,739.7 598.7,738.5 600.9,737.3 603.1,736.1 605.3,734.9 607.5,733.6 609.6,732.4 611.8,731.1 613.9,729.9 616.1,728.6 618.2,727.3 620.3,726.0 622.5,724.7 624.6,723.4 626.7,722.1 628.7,720.8 630.8,719.5 632.9,718.1 634.9,716.7 637.0,715.4 639.0,714.0 641.0,712.6 643.0,711.2 645.0,709.7 647.0,708.3 648.9,706.9 650.9,705.4 652.8,703.9 654.7,702.4 656.6,700.9 658.5,699.4 660.4,697.9 662.2,696.3 664.1,694.8 665.9,693.2 667.7,691.6 669.5,690.0 671.3,688.3 673.1,686.7 674.8,685.0 676.5,683.3 678.2,681.6 679.9,679.9 681.6,678.2 683.3,676.4 684.9,674.7 686.5,672.9 688.1,671.1 689.7,669.3 691.3,667.5 692.9,665.6 694.4,663.8 696.0,661.9 697.5,660.0 699.0,658.1 700.5,656.2 701.9,654.2 703.4,652.3 704.8,650.3 706.3,648.4 707.7,646.4 709.1,644.4 710.5,642.4 711.8,640.4 713.2,638.3 714.6,636.3 715.9,634.2 717.2,632.1 718.5,630.1 719.8,628.0 721.1,625.9 722.4,623.7 723.7,621.6 724.9,619.5 726.2,617.3 727.4,615.2 728.6,613.0 729.8,610.8 731.0,608.7 732.2,606.5 733.4,604.3 734.6,602.1 735.8,599.8 736.9,597.6 738.1,595.4 739.2,593.1 740.3,590.9 741.5,588.6 742.6,586.4 743.7,584.1 744.8,581.8 745.9,579.5 747.0,577.3 748.1,575.0 749.1,572.7 750.2,570.4 751.2,568.0 752.3,565.7 753.3,563.4 754.4,561.1 755.4,558.8 756.5,556.4 757.5,554.1 758.5,551.7 759.5,549.4 760.5,547.0 761.5,544.7 762.5,542.3 763.5,540.0 764.5,537.6 765.5,535.3 766.5,532.9 767.5,530.5 768.5,528.2 769.5,525.8 770.4,523.4 771.4,521.1 772.4,518.7 773.3,516.3 774.3,514.0 775.3,511.6 776.2,509.2 777.2,506.9 778.2,504.5 779.1,502.1 780.1,499.8 781.1,497.4 782.0,495.0 783.0,492.7 784.0,490.3 784.9,488.0 785.9,485.6 786.8,483.3 787.8,480.9 788.8,478.6 789.7,476.2 790.7,473.9 791.7,471.6 792.7,469.2 793.6,466.9 794.6,464.6 795.6,462.2 796.5,459.9 797.5,457.6 798.5,455.3 799.5,453.0 800.4,450.6 801.4,448.3 802.4,446.0 803.4,443.7 804.3,441.4 805.3,439.1 806.3,436.8 807.3,434.5 808.2,432.2 809.2,429.9 810.2,427.6 811.2,425.3 812.1,423.0 813.1,420.7 814.1,418.4 815.1,416.1 816.0,413.8 817.0,411.5 818.0,409.2 819.0,407.0 819.9,404.7 820.9,402.4 821.9,400.1 822.8,397.8 823.8,395.5 824.8,393.3 825.8,391.0 826.7,388.7 827.7,386.4 828.7,384.1 829.6,381.9 830.6,379.6 831.6,377.3 832.5,375.0 833.5,372.8 834.4,370.5 835.4,368.2 836.4,365.9 837.3,363.7 838.3,361.4 839.2,359.1 840.2,356.8 841.1,354.6 842.1,352.3 843.0,350.0 844.0,347.7 844.9,345.5 845.8,343.2 846.8,340.9 847.7,338.6 848.7,336.3 849.6,334.1 850.5,331.8 851.5,329.5 852.4,327.2 853.3,324.9 854.2,322.6 855.2,320.4 856.1,318.1 857.0,315.8 857.9,313.5 858.8,311.2 859.7,308.9 860.6,306.6 861.6,304.3 862.5,302.0 863.4,299.8 864.3,297.5 865.2,295.2 866.1,292.9 866.9,290.6 867.8,288.3 868.7,286.0 869.6,283.6 870.5,281.3 871.4,279.0 872.3,276.7 873.2,274.4 874.1,272.1 875.0,269.8 875.9,267.5 876.8,265.2 877.7,262.9 878.6,260.6 879.5,258.2 880.5,255.9 881.4,253.6 882.3,251.3 883.2,249.0 884.2,246.7 885.1,244.4 886.1,242.0 887.0,239.7 888.0,237.4 889.0,235.1 889.9,232.8 890.9,230.5 891.9,228.1 892.9,225.8 893.9,223.5 894.9,221.2 895.9,218.9 897.0,216.5 898.0,214.2 899.0,211.9 900.1,209.6 901.2,207.3 902.3,205.0 903.4,202.6 904.5,200.3 905.6,198.0 906.7,195.7 907.8,193.4 909.0,191.1 910.2,188.7 911.3,186.4 912.5,184.1 913.7,181.8 915.0,179.5 916.2,177.2 917.4,174.9 918.7,172.6 920.0,170.3 921.3,168.0 922.6,165.7 924.0,163.5 925.3,161.2 926.7,159.0 928.1,156.8 929.5,154.6 930.9,152.4 932.4,150.3 933.9,148.1 935.4,146.0 936.9,143.9 938.4,141.9 940.0,139.9 941.6,137.9 943.2,136.0 944.9,134.1 946.6,132.2 948.3,130.4 950.0,128.6 951.8,126.8 953.6,125.1 955.4,123.5 957.2,121.9 959.1,120.3 961.0,118.8 963.0,117.4 964.9,116.0 966.9,114.7 969.0,113.4 971.1,112.2 973.2,111.0 975.3,109.9 977.5,108.9 979.7,107.9 982.0,107.1 984.3,106.2 986.6,105.5 989.0,104.8 991.4,104.3 993.8,103.7 996.2,103.3 998.7,103.0 1001.2,102.7 1003.7,102.6 1006.2,102.5 1008.6,102.6 1011.1,102.7 1013.6,103.0 1016.0,103.3 1018.4,103.8 1020.8,104.3 1023.1,105.0 1025.4,105.8 1027.7,106.8 1029.9,107.8 1032.0,109.0 1034.2,110.3 1036.2,111.6 1038.3,113.1 1040.3,114.6 1042.2,116.2 1044.2,117.9 1046.0,119.7 1047.9,121.4 1049.8,123.3 1051.6,125.2 1053.4,127.0 1055.1,129.0 1056.9,130.9 1058.6,132.8 1060.4,134.8 1062.1,136.7 1063.8,138.6 1065.4,140.6 1067.1,142.6 1068.8,144.5 1070.4,146.5 1072.0,148.4 1073.6,150.4 1075.2,152.4 1076.8,154.4 1078.3,156.3 1079.9,158.3 1081.4,160.3 1083.0,162.3 1084.5,164.3 1086.0,166.3 1087.5,168.3 1088.9,170.4 1090.4,172.4 1091.9,174.4 1093.3,176.4 1094.7,178.5 1096.1,180.5 1097.5,182.6 1098.9,184.6 1100.3,186.7 1101.7,188.7 1103.1,190.8 1104.4,192.9 1105.8,195.0 1107.1,197.1 1108.4,199.1 1109.7,201.2 1111.0,203.3 1112.3,205.5 1113.6,207.6 1114.9,209.7 1116.2,211.8 1117.4,214.0 1118.7,216.1 1119.9,218.2 1121.2,220.4 1122.4,222.6 1123.6,224.7 1124.8,226.9 1126.0,229.1 1127.2,231.3 1128.4,233.4 1129.6,235.6 1130.8,237.8 1132.0,240.0 1133.1,242.2 1134.3,244.5 1135.5,246.7 1136.6,248.9 1137.8,251.1 1138.9,253.4 1140.0,255.6 1141.2,257.8 1142.3,260.1 1143.4,262.3 1144.5,264.6 1145.6,266.8 1146.8,269.1 1147.9,271.3 1149.0,273.6 1150.1,275.9 1151.2,278.1 1152.3,280.4 1153.4,282.7 1154.5,285.0 1155.5,287.2 1156.6,289.5 1157.7,291.8 1158.8,294.1 1159.9,296.3 1161.0,298.6 1162.1,300.9 1163.1,303.2 1164.2,305.5 1165.3,307.8 1166.4,310.0 1167.5,312.3 1168.5,314.6 1169.6,316.9 1170.7,319.2 1171.8,321.5 1172.9,323.7 1173.9,326.0 1175.0,328.3 1176.1,330.6 1177.2,332.9 1178.3,335.1 1179.4,337.4 1180.5,339.7 1181.6,342.0 1182.7,344.2 1183.8,346.5 1184.9,348.8 1186.0,351.0 1187.1,353.3 1188.2,355.5 1189.4,357.8 1190.5,360.0 1191.6,362.3 1192.8,364.5 1193.9,366.8 1195.0,369.0 1196.2,371.2 1197.3,373.4 1198.5,375.7 1199.7,377.9 1200.8,380.1 1202.0,382.3 1203.2,384.5 1204.4,386.7 1205.6,388.9 1206.8,391.1 1208.0,393.3 1209.2,395.4 1210.5,397.6 1211.7,399.8 1212.9,401.9 1214.2,404.1 1215.4,406.2 1216.7,408.3 1218.0,410.5 1219.3,412.6 1220.6,414.7 1221.9,416.8 1223.2,418.9 1224.5,421.0 1225.8,423.1 1227.2,425.2 1228.5,427.2 1229.9,429.3 1231.2,431.4 1232.6,433.4 1234.0,435.4 1235.4,437.5 1236.8,439.5 1238.3,441.5 1239.7,443.5 1241.2,445.5 1242.6,447.4 1244.1,449.4 1245.6,451.4 1247.1,453.3 1248.6,455.3 1250.1,457.2 1251.7,459.1 1253.2,461.0 1254.8,462.9 1256.4,464.8 1257.9,466.7 1259.6,468.5 1261.2,470.4 1262.8,472.2 1264.5,474.0 1266.1,475.8 1267.8,477.6 1269.5,479.4 1271.2,481.2 1273.0,483.0 1274.7,484.7 1276.5,486.5 1278.2,488.2 1280.0,489.9 1281.9,491.6 1283.7,493.3 1285.5,494.9 1287.4,496.6 1289.3,498.2 1291.2,499.9 1293.1,501.5 1295.0,503.1 1297.0,504.6 1298.9,506.2 1300.9,507.8 1302.9,509.3 1305.0,510.8 1307.0,512.3 1309.1,513.8 1311.2,515.3 1313.3,516.7 1315.4,518.2 1317.5,519.6 1319.7,521.0 1321.9,522.4 1324.1,523.8"/>
<path stroke="#de1414" d="M195.8,909.5 198.4,909.6 200.9,909.6 203.5,909.6 206.1,909.5 208.6,909.4 211.1,909.3 213.7,909.1 216.2,908.9 218.7,908.7 221.2,908.4 223.7,908.1 226.2,907.8 228.7,907.4 231.2,907.1 233.6,906.7 236.1,906.2 238.6,905.8 241.0,905.3 243.5,904.8 245.9,904.2 248.3,903.7 250.7,903.1 253.2,902.5 255.6,901.9 258.0,901.3 260.4,900.6 262.8,899.9 265.2,899.2 267.6,898.5 270.0,897.8 272.4,897.0 274.8,896.3 277.1,895.5 279.5,894.7 281.9,893.9 284.2,893.1 286.6,892.3 289.0,891.4 291.3,890.6 293.7,889.7 296.0,888.9 298.4,888.0 300.7,887.1 303.1,886.2 305.4,885.3 307.8,884.4 310.1,883.5 312.5,882.6 314.8,881.7 317.2,880.8 319.5,879.9 321.8,878.9 324.2,878.0 326.5,877.1 328.9,876.2 331.2,875.3 333.6,874.3 335.9,873.4 338.2,872.5 340.6,871.6 342.9,870.7 345.3,869.8 347.6,868.9 350.0,868.1 352.4,867.2 354.7,866.3 357.1,865.5 359.4,864.6 361.8,863.8 364.2,863.0 366.5,862.2 368.9,861.4 371.3,860.6 373.7,859.8 376.1,859.0 378.4,858.3 380.8,857.5 383.2,856.8 385.6,856.0 388.0,855.3 390.4,854.6 392.8,853.9 395.2,853.2 397.6,852.5 400.0,851.8 402.4,851.2 404.8,850.5 407.2,849.8 409.6,849.2 412.1,848.5 414.5,847.9 416.9,847.3 419.3,846.6 421.7,846.0 424.2,845.4 426.6,844.8 429.0,844.1 431.4,843.5 433.9,842.9 436.3,842.3 438.7,841.7 441.1,841.1 443.6,840.5 446.0,840.0 448.4,839.4 450.9,838.8 453.3,838.2 455.7,837.6 458.2,837.0 460.6,836.4 463.0,835.9 465.5,835.3 467.9,834.7 470.4,834.1 472.8,833.5 475.2,833.0 477.7,832.4 480.1,831.8 482.5,831.2 485.0,830.6 487.4,830.0 489.8,829.4 492.3,828.8 494.7,828.2 497.1,827.6 499.6,827.0 502.0,826.4 504.4,825.8 506.9,825.2 509.3,824.6 511.7,824.0 514.2,823.3 516.6,822.7 519.0,822.0 521.4,821.4 523.9,820.7 526.3,820.1 528.7,819.4 531.1,818.8 533.5,818.1 536.0,817.4 538.4,816.7 540.8,816.0 543.2,815.3 545.6,814.6 548.0,813.9 550.4,813.2 552.8,812.4 555.2,811.7 557.6,811.0 560.0,810.2 562.4,809.5 564.8,808.7 567.2,807.9 569.6,807.2 571.9,806.4 574.3,805.6 576.7,804.8 579.1,804.0 581.4,803.2 583.8,802.3 586.2,801.5 588.5,800.7 590.9,799.8 593.2,799.0 595.6,798.1 597.9,797.2 600.3,796.4 602.6,795.5 604.9,794.6 607.3,793.7 609.6,792.8 611.9,791.8 614.2,790.9 616.5,790.0 618.9,789.0 621.2,788.1 623.5,787.1 625.8,786.1 628.0,785.1 630.3,784.1 632.6,783.1 634.9,782.1 637.2,781.1 639.4,780.1 641.7,779.0 643.9,778.0 646.2,776.9 648.4,775.8 650.7,774.7 652.9,773.6 655.1,772.5 657.4,771.4 659.6,770.3 661.8,769.2 664.0,768.0 666.2,766.8 668.4,765.7 670.6,764.5 672.8,763.3 675.0,762.1 677.1,760.9 679.3,759.7 681.4,758.4 683.6,757.2 685.7,755.9 687.9,754.6 690.0,753.4 692.1,752.1 694.2,750.8 696.4,749.4 698.5,748.1 700.5,746.8 702.6,745.4 704.7,744.0 706.8,742.7 708.9,741.3 710.9,739.9 713.0,738.4 715.0,737.0 717.0,735.6 719.1,734.1 721.1,732.6 723.1,731.2 725.1,729.7 727.1,728.2 729.1,726.7 731.1,725.2 733.1,723.6 735.1,722.1 737.0,720.6 739.0,719.0 741.0,717.4 742.9,715.9 744.9,714.3 746.8,712.7 748.7,711.1 750.7,709.5 752.6,707.8 754.5,706.2 756.4,704.6 758.3,702.9 760.2,701.3 762.1,699.6 764.0,698.0 765.9,696.3 767.8,694.6 769.7,692.9 771.5,691.2 773.4,689.5 775.3,687.8 777.1,686.1 779.0,684.4 780.8,682.7 782.6,681.0 784.5,679.2 786.3,677.5 788.1,675.7 790.0,674.0 791.8,672.3 793.6,670.5 795.4,668.7 797.2,667.0 799.0,665.2 800.8,663.4 802.6,661.7 804.4,659.9 806.2,658.1 808.0,656.3 809.8,654.5 811.6,652.7 813.3,651.0 815.1,649.2 816.9,647.4 818.6,645.6 820.4,643.8 822.2,642.0 823.9,640.2 825.7,638.4 827.4,636.6 829.2,634.8 830.9,633.0 832.7,631.2 834.4,629.4 836.1,627.5 837.9,625.7 839.6,623.9 841.3,622.1 843.1,620.3 844.8,618.5 846.5,616.7 848.3,614.9 850.0,613.1 851.7,611.3 853.4,609.5 855.2,607.7 856.9,605.9 858.6,604.2 860.3,602.4 862.0,600.6 863.8,598.8 865.5,597.0 867.2,595.2 868.9,593.4 870.7,591.6 872.4,589.8 874.1,588.1 875.8,586.3 877.6,584.5 879.3,582.7 881.0,581.0 882.8,579.2 884.5,577.4 886.3,575.6 888.0,573.9 889.7,572.1 891.5,570.3 893.2,568.6 895.0,566.8 896.8,565.1 898.5,563.3 900.3,561.6 902.1,559.8 903.8,558.1 905.6,556.3 907.4,554.6 909.2,552.8 911.0,551.1 912.8,549.4 914.6,547.6 916.4,545.9 918.2,544.2 920.0,542.5 921.8,540.7 923.7,539.0 925.5,537.3 927.3,535.6 929.2,533.9 931.0,532.2 932.9,530.5 934.7,528.8 936.6,527.1 938.5,525.4 940.3,523.7 942.2,522.0 944.0,520.3 945.9,518.6 947.8,516.9 949.6,515.2 951.5,513.5 953.3,511.7 955.0,509.9 956.6,508.1 958.2,506.1 959.7,504.1 961.0,502.1 962.3,500.0 963.6,497.8 964.8,495.6 965.9,493.4 967.0,491.2 968.0,488.9 969.1,486.6 970.1,484.3 971.0,482.0 972.0,479.7 973.0,477.4 973.9,475.0 974.8,472.7 975.7,470.4 976.6,468.0 977.4,465.7 978.3,463.3 979.1,461.0 979.9,458.6 980.8,456.3 981.5,453.9 982.3,451.5 983.1,449.1 983.9,446.7 984.6,444.4 985.3,442.0 986.1,439.6 986.8,437.2 987.5,434.8 988.2,432.4 988.9,430.0 989.5,427.6 990.2,425.1 990.9,422.7 991.5,420.3 992.2,417.9 992.8,415.5 993.5,413.0 994.1,410.6 994.7,408.2 995.4,405.8 996.0,403.3 996.6,400.9 997.2,398.5 997.8,396.0 998.4,393.6 999.0,391.2 999.7,388.7 1000.3,386.3 1000.9,383.9 1001.5,381.4 1002.1,379.0 1002.7,376.6 1003.3,374.1 1003.9,371.7 1004.5,369.3 1005.1,366.8 1005.8,364.4 1006.4,362.0 1007.0,359.5 1007.6,357.1 1008.3,354.7 1008.9,352.3 1009.6,349.8 1010.2,347.4 1010.9,345.0 1011.6,342.6 1012.2,340.2 1012.9,337.8 1013.6,335.3 1014.3,332.9 1015.0,330.5 1015.7,328.1 1016.4,325.7 1017.1,323.3 1017.8,320.9 1018.5,318.5 1019.2,316.1 1019.9,313.7 1020.6,311.3 1021.3,308.9 1022.0,306.5 1022.7,304.1 1023.3,301.7 1024.0,299.3 1024.6,296.9 1025.3,294.4 1025.9,292.0 1026.5,289.6 1027.1,287.2 1027.7,284.7 1028.2,282.3 1028.8,279.9 1029.3,277.4 1029.8,275.0 1030.3,272.5 1030.8,270.1 1031.3,267.6 1031.7,265.1 1032.1,262.6 1032.5,260.2 1032.9,257.7 1033.2,255.2 1033.6,252.7 1034.0,250.2 1034.3,247.7 1034.7,245.2 1035.0,242.7 1035.3,240.2 1035.7,237.8 1036.1,235.3 1036.4,232.8 1036.8,230.3 1037.2,227.8 1037.6,225.3 1038.0,222.9 1038.5,220.4 1039.0,217.9 1039.5,215.5 1040.0,213.0 1040.5,210.6 1041.1,208.1 1041.7,205.7 1042.3,203.3 1043.0,200.9 1043.6,198.5 1044.3,196.0 1045.0,193.7 1045.7,191.3 1046.5,188.9 1047.2,186.5 1048.0,184.1 1048.8,181.8 1049.6,179.4 1050.5,177.1 1051.3,174.7 1052.2,172.4 1053.1,170.1 1054.0,167.7 1055.0,165.4 1055.9,163.1 1056.9,160.8 1057.8,158.5 1058.8,156.2 1059.9,154.0 1060.9,151.7 1061.9,149.4 1063.0,147.2 1064.0,144.9 1065.1,142.7 1066.2,140.5 1067.3,138.2 1068.4,135.9 1069.5,133.6 1070.6,131.3 1071.6,128.9 1072.6,126.4 1073.6,123.8 1074.6,121.2 1075.6,118.5 1076.5,115.7 1077.4,113.1 1078.5,110.6 1079.5,108.3 1080.7,106.3 1082.1,104.7 1083.5,103.5 1085.2,102.8 1087.1,102.7 1089.1,103.0 1091.2,103.7 1093.4,104.8 1095.7,106.2 1097.9,107.8 1100.1,109.6 1102.2,111.4 1104.2,113.4 1106.2,115.3 1108.0,117.3 1109.8,119.4 1111.5,121.5 1113.1,123.5 1114.7,125.6 1116.2,127.7 1117.7,129.8 1119.1,131.9 1120.5,133.9 1121.8,136.0 1123.1,138.1 1124.3,140.2 1125.5,142.3 1126.6,144.5 1127.7,146.7 1128.7,148.9 1129.7,151.1 1130.7,153.4 1131.6,155.7 1132.5,158.1 1133.3,160.4 1134.2,162.8 1135.0,165.1 1135.8,167.5 1136.6,169.9 1137.4,172.3 1138.2,174.7 1139.0,177.2 1139.8,179.6 1140.6,181.9 1141.5,184.3 1142.3,186.7 1143.2,189.1 1144.1,191.4 1145.0,193.8 1146.0,196.1 1146.9,198.4 1147.9,200.7 1148.9,203.1 1149.9,205.4 1150.9,207.6 1151.9,209.9 1152.9,212.2 1154.0,214.5 1155.0,216.8 1156.1,219.0 1157.2,221.3 1158.2,223.5 1159.3,225.8 1160.4,228.0 1161.5,230.3 1162.6,232.5 1163.7,234.8 1164.7,237.0 1165.8,239.3 1166.9,241.5 1168.0,243.8 1169.1,246.0 1170.2,248.3 1171.2,250.5 1172.3,252.8 1173.4,255.1 1174.4,257.3 1175.5,259.6 1176.5,261.9 1177.5,264.1 1178.5,266.4 1179.5,268.7 1180.5,271.0 1181.5,273.3 1182.4,275.6 1183.4,278.0 1184.3,280.3 1185.3,282.6 1186.2,284.9 1187.1,287.3 1188.0,289.6 1188.9,292.0 1189.8,294.3 1190.7,296.7 1191.6,299.0 1192.5,301.4 1193.4,303.7 1194.3,306.1 1195.2,308.4 1196.1,310.8 1196.9,313.1 1197.8,315.5 1198.7,317.8 1199.6,320.2 1200.5,322.5 1201.4,324.9 1202.3,327.2 1203.2,329.5 1204.2,331.9 1205.1,334.2 1206.0,336.5 1207.0,338.8 1207.9,341.1 1208.9,343.4 1209.9,345.7 1210.9,348.0 1211.9,350.3 1212.9,352.6 1214.0,354.9 1215.0,357.1 1216.1,359.4 1217.2,361.6 1218.3,363.9 1219.4,366.1 1220.5,368.3 1221.7,370.5 1222.9,372.7 1224.1,374.9 1225.3,377.0 1226.5,379.2 1227.8,381.3 1229.1,383.5 1230.4,385.6 1231.7,387.7 1233.1,389.8 1234.4,391.9 1235.8,394.0 1237.2,396.0 1238.6,398.1 1240.1,400.1 1241.5,402.1 1243.0,404.2 1244.5,406.2 1246.0,408.1 1247.5,410.1 1249.1,412.1 1250.6,414.1 1252.2,416.0 1253.8,417.9 1255.4,419.9 1257.0,421.8 1258.6,423.7 1260.3,425.6 1262.0,427.5 1263.6,429.3 1265.3,431.2 1267.0,433.0 1268.7,434.9 1270.5,436.7 1272.2,438.5 1274.0,440.3 1275.7,442.1 1277.5,443.9 1279.3,445.7 1281.1,447.4 1282.9,449.1 1284.8,450.9 1286.6,452.6 1288.5,454.2 1290.3,455.9 1292.2,457.6 1294.1,459.2 1296.0,460.8 1298.0,462.4 1299.9,463.9 1301.9,465.4 1303.9,467.0 1305.9,468.4 1307.9,469.9 1310.0,471.3 1312.0,472.7 1314.1,474.1 1316.2,475.4 1318.3,476.7 1320.4,478.0 1322.6,479.2 1324.7,480.4"/>
<path stroke="#a50d1f" d="M575.9,902.6 577.6,900.8 579.2,899.0 580.9,897.1 582.6,895.3 584.2,893.4 585.9,891.5 587.5,889.7 589.1,887.8 590.8,885.9 592.4,884.0 594.0,882.1 595.6,880.2 597.2,878.3 598.8,876.4 600.4,874.4 602.0,872.5 603.6,870.6 605.1,868.6 606.7,866.7 608.2,864.7 609.8,862.7 611.3,860.8 612.9,858.8 614.4,856.8 615.9,854.8 617.5,852.8 619.0,850.9 620.5,848.9 622.0,846.8 623.5,844.8 625.0,842.8 626.5,840.8 628.0,838.8 629.5,836.8 630.9,834.7 632.4,832.7 633.9,830.7 635.3,828.6 636.8,826.6 638.3,824.5 639.7,822.5 641.1,820.4 642.6,818.4 644.0,816.3 645.5,814.2 646.9,812.2 648.3,810.1 649.7,808.0 651.1,805.9 652.5,803.9 654.0,801.8 655.4,799.7 656.8,797.6 658.2,795.5 659.5,793.5 660.9,791.4 662.3,789.3 663.7,787.2 665.1,785.1 666.5,783.0 667.8,780.9 669.2,778.8 670.6,776.7 671.9,774.6 673.3,772.5 674.7,770.4 676.0,768.3 677.4,766.2 678.7,764.1 680.1,762.0 681.4,759.9 682.8,757.8 684.1,755.7 685.4,753.6 686.8,751.5 688.1,749.4 689.4,747.3 690.8,745.2 692.1,743.1 693.4,741.0 694.8,738.9 696.1,736.8 697.4,734.7 698.7,732.6 700.1,730.5 701.4,728.4 702.7,726.4 704.0,724.3 705.3,722.2 706.6,720.1 707.9,718.0 709.2,715.9 710.6,713.8 711.9,711.8 713.2,709.7 714.5,707.6 715.8,705.5 717.1,703.4 718.4,701.4 719.7,699.3 721.0,697.2 722.3,695.1 723.6,693.0 724.9,691.0 726.2,688.9 727.5,686.8 728.8,684.7 730.1,682.7 731.4,680.6 732.7,678.5 734.0,676.4 735.3,674.4 736.5,672.3 737.8,670.2 739.1,668.1 740.4,666.1 741.7,664.0 743.0,661.9 744.3,659.8 745.6,657.8 746.9,655.7 748.2,653.6 749.5,651.5 750.8,649.5 752.0,647.4 753.3,645.3 754.6,643.2 755.9,641.1 757.2,639.1 758.5,637.0 759.8,634.9 761.1,632.8 762.4,630.8 763.7,628.7 765.0,626.6 766.3,624.5 767.6,622.4 768.9,620.3 770.2,618.2 771.5,616.2 772.7,614.1 774.0,612.0 775.3,609.9 776.6,607.8 777.9,605.7 779.2,603.6 780.5,601.5 781.8,599.4 783.2,597.3 784.5,595.3 785.8,593.2 787.1,591.1 788.4,589.0 789.7,586.9 791.0,584.8 792.3,582.7 793.6,580.6 794.9,578.5 796.2,576.4 797.5,574.3 798.8,572.2 800.1,570.1 801.4,567.9 802.7,565.8 804.0,563.7 805.4,561.6 806.7,559.5 808.0,557.4 809.3,555.3 810.6,553.2 811.9,551.1 813.2,549.0 814.5,546.9 815.8,544.7 817.1,542.6 818.5,540.5 819.8,538.4 821.1,536.3 822.4,534.2 823.7,532.1 825.0,529.9 826.3,527.8 827.6,525.7 828.9,523.6 830.3,521.5 831.6,519.3 832.9,517.2 834.2,515.1 835.5,513.0 836.8,510.8 838.1,508.7 839.4,506.6 840.8,504.5 842.1,502.3 843.4,500.2 844.7,498.1 846.0,496.0 847.3,493.8 848.6,491.7 849.9,489.6 851.2,487.4 852.6,485.3 853.9,483.2 855.2,481.0 856.5,478.9 857.8,476.8 859.1,474.6 860.4,472.5 861.7,470.4 863.0,468.2 864.3,466.1 865.7,464.0 867.0,461.8 868.3,459.7 869.6,457.5 870.9,455.4 872.2,453.3 873.5,451.1 874.8,449.0 876.1,446.8 877.4,444.7 878.7,442.5 880.0,440.4 881.3,438.3 882.6,436.1 883.9,434.0 885.2,431.8 886.5,429.7 887.8,427.5 889.2,425.4 890.5,423.2 891.8,421.1 893.1,418.9 894.4,416.8 895.6,414.6 896.9,412.5 898.2,410.3 899.5,408.2 900.8,406.0 902.1,403.9 903.4,401.7 904.7,399.6 906.0,397.4 907.3,395.3 908.6,393.1 909.9,391.0 911.2,388.8 912.5,386.7 913.8,384.5 915.1,382.3 916.3,380.2 917.6,378.0 918.9,375.9 920.2,373.7 921.5,371.6 922.8,369.4 924.0,367.2 925.3,365.1 926.6,362.9 927.9,360.8 929.2,358.6 930.4,356.4 931.7,354.3 933.0,352.1 934.3,350.0 935.6,347.8 936.8,345.6 938.1,343.5 939.4,341.3 940.6,339.1 941.9,337.0 943.2,334.8 944.4,332.7 945.7,330.5 947.0,328.3 948.2,326.2 949.5,324.0 950.8,321.8 952.0,319.7 953.3,317.5 954.5,315.3 955.8,313.2 957.1,311.0 958.3,308.8 959.6,306.7 960.8,304.5 962.1,302.3 963.3,300.2 964.6,298.0 965.8,295.8 967.1,293.6 968.3,291.5 969.6,289.3 970.8,287.1 972.0,285.0 973.3,282.8 974.5,280.6 975.8,278.5 977.0,276.3 978.2,274.1 979.5,271.9 980.7,269.8 981.9,267.6 983.1,265.4 984.4,263.3 985.6,261.1 986.8,258.9 988.1,256.7 989.3,254.6 990.5,252.4 991.7,250.2 993.0,248.1 994.2,245.9 995.4,243.7 996.7,241.6 997.9,239.4 999.1,237.2 1000.3,235.1 1001.6,232.9 1002.8,230.7 1004.0,228.6 1005.3,226.4 1006.5,224.2 1007.7,222.1 1009.0,219.9 1010.2,217.8 1011.5,215.6 1012.7,213.5 1013.9,211.3 1015.2,209.2 1016.4,207.0 1017.7,204.9 1018.9,202.7 1020.2,200.6 1021.4,198.4 1022.7,196.3 1024.0,194.1 1025.2,192.0 1026.5,189.9 1027.8,187.7 1029.1,185.6 1030.3,183.5 1031.6,181.4 1032.9,179.2 1034.2,177.1 1035.5,175.0 1036.8,172.9 1038.1,170.8 1039.4,168.7 1040.7,166.6 1042.1,164.5 1043.4,162.4 1044.8,160.3 1046.1,158.3 1047.5,156.2 1048.9,154.2 1050.4,152.2 1051.8,150.2 1053.3,148.3 1054.8,146.3 1056.4,144.4 1057.9,142.5 1059.5,140.6 1061.1,138.8 1062.8,137.0 1064.5,135.2 1066.2,133.4 1068.0,131.7 1069.8,130.0 1071.6,128.3 1073.5,126.7 1075.4,125.1 1077.4,123.6 1079.4,122.1 1081.5,120.6 1083.6,119.2 1085.8,117.8 1088.0,116.5 1090.3,115.2 1092.6,114.0 1095.0,112.8 1097.5,111.7 1100.0,110.6 1102.5,109.7 1105.1,108.8 1107.7,108.0 1110.2,107.3 1112.8,106.8 1115.4,106.4 1117.9,106.1 1120.4,106.1 1122.8,106.2 1125.1,106.5 1127.4,107.1 1129.6,107.9 1131.7,108.9 1133.7,110.2 1135.5,111.6 1137.4,113.3 1139.1,115.0 1140.9,116.9 1142.6,118.8 1144.2,120.8 1145.9,122.8 1147.6,124.7 1149.4,126.6 1151.1,128.4 1153.0,130.1 1154.8,131.7 1156.7,133.3 1158.6,134.8 1160.5,136.4 1162.3,137.9 1164.2,139.5 1166.0,141.1 1167.8,142.9 1169.5,144.6 1171.2,146.4 1172.9,148.2 1174.6,150.1 1176.2,152.0 1177.8,153.9 1179.4,155.8 1181.0,157.7 1182.6,159.7 1184.2,161.6 1185.8,163.5 1187.4,165.5 1188.9,167.4 1190.5,169.3 1192.0,171.3 1193.6,173.2 1195.1,175.1 1196.6,177.1 1198.2,179.0 1199.7,181.0 1201.2,182.9 1202.8,184.9 1204.3,186.8 1205.8,188.8 1207.3,190.7 1208.9,192.7 1210.4,194.7 1211.9,196.6 1213.5,198.6 1215.0,200.6 1216.5,202.5 1218.1,204.5 1219.6,206.5 1221.2,208.5 1222.8,210.4 1224.3,212.4 1225.9,214.4 1227.5,216.3 1229.1,218.3 1230.7,220.2 1232.4,222.2 1234.0,224.1 1235.7,226.0 1237.3,227.9 1239.0,229.8 1240.7,231.6 1242.5,233.4 1244.2,235.2 1246.0,237.0 1247.8,238.7 1249.7,240.4 1251.5,242.1 1253.4,243.7 1255.3,245.3 1257.3,246.8 1259.2,248.3 1261.2,249.8 1263.3,251.2 1265.3,252.5 1267.4,253.8 1269.5,255.1 1271.7,256.4 1273.9,257.6 1276.0,258.7 1278.2,259.9 1280.4,261.0 1282.7,262.1 1284.8,263.3 1286.9,264.6 1288.9,266.1 1290.7,267.7 1292.5,269.5 1294.2,271.3 1295.9,273.1 1297.7,274.8 1299.5,276.5 1301.3,278.1 1303.3,279.5 1305.3,280.7 1307.5,281.8 1309.8,282.6 1312.2,283.2 1314.7,283.5 1317.3,283.7 1319.9,283.8 1322.5,283.8 1325.1,283.8"/>
</g>
<path d="M196.5,927.0V21.5M196.5,21.5H1319.5" stroke="#383838" stroke-width="4.6" fill="none" stroke-linecap="square"/>
<path d="M1319.5,21.5V927.0M196.5,927.0H1319.5" stroke="#141414" stroke-width="3.2" fill="none" stroke-linecap="square"/>
<path d="M196.5,911.5h16.5M196.5,830.6h8.0M196.5,749.7h16.5M196.5,668.8h8.0M196.5,587.9h16.5M196.5,507.0h8.0M196.5,426.1h16.5M196.5,345.2h8.0M196.5,264.3h16.5M196.5,183.4h8.0M196.5,102.5h16.5M196.3,927.0v-16.5M286.9,927.0v-8.0M377.6,927.0v-16.5M468.2,927.0v-8.0M558.8,927.0v-16.5M649.5,927.0v-8.0M740.1,927.0v-16.5M830.7,927.0v-8.0M921.4,927.0v-16.5M1012.0,927.0v-8.0M1102.6,927.0v-16.5M1193.3,927.0v-8.0M1283.9,927.0v-16.5" stroke="#111" stroke-width="3.0" fill="none"/>
<text class="tk" x="178.0" y="908.2" font-size="62.0" text-anchor="end" dominant-baseline="central">0.0</text>
<text class="tk" x="178.0" y="746.4" font-size="62.0" text-anchor="end" dominant-baseline="central">0.2</text>
<text class="tk" x="178.0" y="584.6" font-size="62.0" text-anchor="end" dominant-baseline="central">0.4</text>
<text class="tk" x="178.0" y="422.8" font-size="62.0" text-anchor="end" dominant-baseline="central">0.6</text>
<text class="tk" x="178.0" y="261.0" font-size="62.0" text-anchor="end" dominant-baseline="central">0.8</text>
<text class="tk" x="178.0" y="99.2" font-size="62.0" text-anchor="end" dominant-baseline="central">1.0</text>
<text class="tk" x="196.3" y="993.5" font-size="62.0" text-anchor="middle">400</text>
<text class="tk" x="377.6" y="993.5" font-size="62.0" text-anchor="middle">450</text>
<text class="tk" x="558.8" y="993.5" font-size="62.0" text-anchor="middle">500</text>
<text class="tk" x="740.1" y="993.5" font-size="62.0" text-anchor="middle">550</text>
<text class="tk" x="921.4" y="993.5" font-size="62.0" text-anchor="middle">600</text>
<text class="tk" x="1102.6" y="993.5" font-size="62.0" text-anchor="middle">650</text>
<text class="tk" x="1283.9" y="993.5" font-size="62.0" text-anchor="middle">700</text>
<text x="760" y="1088.4" font-size="60.6" text-anchor="middle">Wavelength (nm)</text>
<text class="yt" transform="translate(72.3,474.5) rotate(-90)" font-size="56.0" text-anchor="middle">Normalized PL intensity (a.u.)</text>
<line x1="1343.0" y1="50.5" x2="1449.0" y2="50.5" stroke="#0a04c6" stroke-width="7.5" stroke-linecap="round"/>
<text transform="translate(1461.0,67.9) scale(1,1.075)" font-size="48.0">0D</text>
<line x1="1343.0" y1="108.5" x2="1449.0" y2="108.5" stroke="#6870d6" stroke-width="7.5" stroke-linecap="round"/>
<text transform="translate(1461.0,125.9) scale(1,1.075)" font-size="48.0">5D</text>
<line x1="1343.0" y1="166.5" x2="1449.0" y2="166.5" stroke="#30dede" stroke-width="7.5" stroke-linecap="round"/>
<text transform="translate(1461.0,183.9) scale(1,1.075)" font-size="48.0">10D</text>
<line x1="1343.0" y1="224.5" x2="1449.0" y2="224.5" stroke="#50e650" stroke-width="7.5" stroke-linecap="round"/>
<text transform="translate(1461.0,241.9) scale(1,1.075)" font-size="48.0">15D</text>
<line x1="1343.0" y1="282.5" x2="1449.0" y2="282.5" stroke="#137520" stroke-width="7.5" stroke-linecap="round"/>
<text transform="translate(1461.0,299.9) scale(1,1.075)" font-size="48.0">20D</text>
<line x1="1343.0" y1="340.5" x2="1449.0" y2="340.5" stroke="#eef030" stroke-width="7.5" stroke-linecap="round"/>
<text transform="translate(1461.0,357.9) scale(1,1.075)" font-size="48.0">25D</text>
<line x1="1343.0" y1="398.5" x2="1449.0" y2="398.5" stroke="#d4d654" stroke-width="7.5" stroke-linecap="round"/>
<text transform="translate(1461.0,415.9) scale(1,1.075)" font-size="48.0">30D</text>
<line x1="1343.0" y1="456.5" x2="1449.0" y2="456.5" stroke="#e8821f" stroke-width="7.5" stroke-linecap="round"/>
<text transform="translate(1461.0,473.9) scale(1,1.075)" font-size="48.0">35D</text>
<line x1="1343.0" y1="514.5" x2="1449.0" y2="514.5" stroke="#d04c55" stroke-width="7.5" stroke-linecap="round"/>
<text transform="translate(1461.0,531.9) scale(1,1.075)" font-size="48.0">40D</text>
<line x1="1343.0" y1="572.5" x2="1449.0" y2="572.5" stroke="#de1414" stroke-width="7.5" stroke-linecap="round"/>
<text transform="translate(1461.0,589.9) scale(1,1.075)" font-size="48.0">45D</text>
<line x1="1343.0" y1="630.5" x2="1449.0" y2="630.5" stroke="#a50d1f" stroke-width="7.5" stroke-linecap="round"/>
<text transform="translate(1461.0,647.9) scale(1,1.075)" font-size="48.0">50D</text>
</g></svg></body></html>
